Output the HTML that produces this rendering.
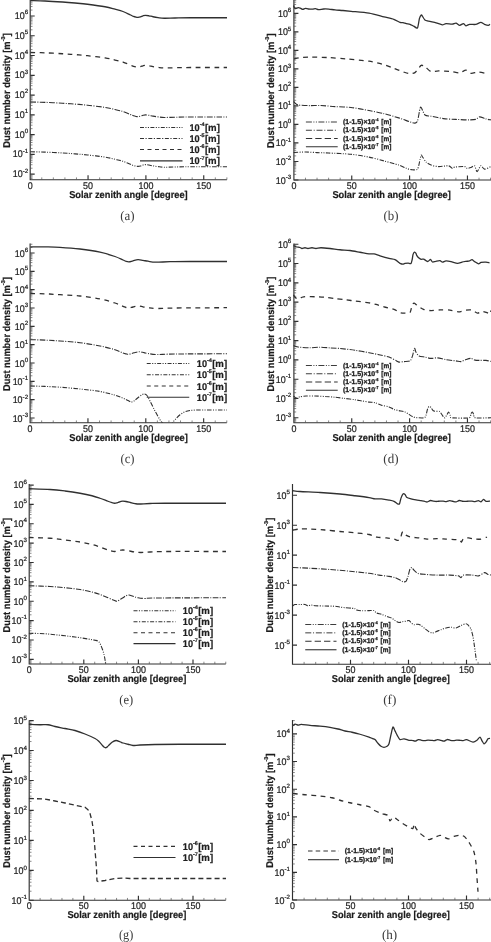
<!DOCTYPE html>
<html lang="en">
<head>
<meta charset="utf-8">
<title>Dust number density vs solar zenith angle</title>
<style>
html,body{margin:0;padding:0;background:#fff;}
body{width:491px;height:942px;overflow:hidden;font-family:"Liberation Sans",sans-serif;}
svg{display:block;will-change:transform;}
svg text{font-family:"Liberation Sans",sans-serif;text-rendering:geometricPrecision;stroke:#1e1e1e;stroke-width:0.22px;}
</style>
</head>
<body>
<svg width="491" height="942" viewBox="0 0 491 942">
<rect x="0" y="0" width="491" height="942" fill="#ffffff"/>
<g id="panel-a">
<path d="M30.2 0 V179.7 H226.89" stroke="#303030" stroke-width="1.15" fill="none" stroke-linejoin="miter"/>
<path d="M30.2 174.16h4.5M30.2 154.39h4.5M30.2 134.62h4.5M30.2 114.85h4.5M30.2 95.08h4.5M30.2 75.31h4.5M30.2 55.54h4.5M30.2 35.77h4.5M30.2 16h4.5M88.05 179.7v-4.5M145.9 179.7v-4.5M203.75 179.7v-4.5" stroke="#303030" stroke-width="1.15" fill="none"/>
<path d="M30.2 178.55h2.3M30.2 177.22h2.3M30.2 176.08h2.3M30.2 175.06h2.3M30.2 168.21h2.3M30.2 164.73h2.3M30.2 162.26h2.3M30.2 160.34h2.3M30.2 158.78h2.3M30.2 157.45h2.3M30.2 156.31h2.3M30.2 155.29h2.3M30.2 148.44h2.3M30.2 144.96h2.3M30.2 142.49h2.3M30.2 140.57h2.3M30.2 139.01h2.3M30.2 137.68h2.3M30.2 136.54h2.3M30.2 135.52h2.3M30.2 128.67h2.3M30.2 125.19h2.3M30.2 122.72h2.3M30.2 120.8h2.3M30.2 119.24h2.3M30.2 117.91h2.3M30.2 116.77h2.3M30.2 115.75h2.3M30.2 108.9h2.3M30.2 105.42h2.3M30.2 102.95h2.3M30.2 101.03h2.3M30.2 99.47h2.3M30.2 98.14h2.3M30.2 97h2.3M30.2 95.98h2.3M30.2 89.13h2.3M30.2 85.65h2.3M30.2 83.18h2.3M30.2 81.26h2.3M30.2 79.7h2.3M30.2 78.37h2.3M30.2 77.23h2.3M30.2 76.21h2.3M30.2 69.36h2.3M30.2 65.88h2.3M30.2 63.41h2.3M30.2 61.49h2.3M30.2 59.93h2.3M30.2 58.6h2.3M30.2 57.46h2.3M30.2 56.44h2.3M30.2 49.59h2.3M30.2 46.11h2.3M30.2 43.64h2.3M30.2 41.72h2.3M30.2 40.16h2.3M30.2 38.83h2.3M30.2 37.69h2.3M30.2 36.67h2.3M30.2 29.82h2.3M30.2 26.34h2.3M30.2 23.87h2.3M30.2 21.95h2.3M30.2 20.39h2.3M30.2 19.06h2.3M30.2 17.92h2.3M30.2 16.9h2.3M30.2 10.05h2.3M30.2 6.57h2.3M30.2 4.1h2.3M30.2 2.18h2.3M30.2 0.62h2.3M41.77 179.7v-2.3M53.34 179.7v-2.3M64.91 179.7v-2.3M76.48 179.7v-2.3M99.62 179.7v-2.3M111.19 179.7v-2.3M122.76 179.7v-2.3M134.33 179.7v-2.3M157.47 179.7v-2.3M169.04 179.7v-2.3M180.61 179.7v-2.3M192.18 179.7v-2.3M215.32 179.7v-2.3M226.89 179.7v-2.3" stroke="#555" stroke-width="0.7" fill="none"/>
<text x="14.83" y="19.07" font-size="9.7" textLength="9.92" lengthAdjust="spacingAndGlyphs" fill="#1e1e1e">10</text>
<text x="28.2" y="14.41" font-size="6.2" text-anchor="end" fill="#1e1e1e">6</text>
<text x="14.83" y="38.84" font-size="9.7" textLength="9.92" lengthAdjust="spacingAndGlyphs" fill="#1e1e1e">10</text>
<text x="28.2" y="34.18" font-size="6.2" text-anchor="end" fill="#1e1e1e">5</text>
<text x="14.83" y="58.61" font-size="9.7" textLength="9.92" lengthAdjust="spacingAndGlyphs" fill="#1e1e1e">10</text>
<text x="28.2" y="53.95" font-size="6.2" text-anchor="end" fill="#1e1e1e">4</text>
<text x="14.83" y="78.38" font-size="9.7" textLength="9.92" lengthAdjust="spacingAndGlyphs" fill="#1e1e1e">10</text>
<text x="28.2" y="73.72" font-size="6.2" text-anchor="end" fill="#1e1e1e">3</text>
<text x="14.83" y="98.15" font-size="9.7" textLength="9.92" lengthAdjust="spacingAndGlyphs" fill="#1e1e1e">10</text>
<text x="28.2" y="93.49" font-size="6.2" text-anchor="end" fill="#1e1e1e">2</text>
<text x="14.83" y="117.92" font-size="9.7" textLength="9.92" lengthAdjust="spacingAndGlyphs" fill="#1e1e1e">10</text>
<text x="28.2" y="113.26" font-size="6.2" text-anchor="end" fill="#1e1e1e">1</text>
<text x="14.83" y="137.69" font-size="9.7" textLength="9.92" lengthAdjust="spacingAndGlyphs" fill="#1e1e1e">10</text>
<text x="28.2" y="133.03" font-size="6.2" text-anchor="end" fill="#1e1e1e">0</text>
<text x="12.76" y="157.46" font-size="9.7" textLength="9.92" lengthAdjust="spacingAndGlyphs" fill="#1e1e1e">10</text>
<text x="28.2" y="152.8" font-size="6.2" text-anchor="end" fill="#1e1e1e">-1</text>
<text x="12.76" y="177.23" font-size="9.7" textLength="9.92" lengthAdjust="spacingAndGlyphs" fill="#1e1e1e">10</text>
<text x="28.2" y="172.57" font-size="6.2" text-anchor="end" fill="#1e1e1e">-2</text>
<text x="27.72" y="188.8" font-size="9.7" textLength="4.96" lengthAdjust="spacingAndGlyphs" fill="#1e1e1e">0</text>
<text x="83.09" y="188.8" font-size="9.7" textLength="9.92" lengthAdjust="spacingAndGlyphs" fill="#1e1e1e">50</text>
<text x="138.46" y="188.8" font-size="9.7" textLength="14.89" lengthAdjust="spacingAndGlyphs" fill="#1e1e1e">100</text>
<text x="196.31" y="188.8" font-size="9.7" textLength="14.89" lengthAdjust="spacingAndGlyphs" fill="#1e1e1e">150</text>
<text x="69.2" y="198.3" font-size="9.9" font-weight="bold" textLength="118.5" lengthAdjust="spacingAndGlyphs" fill="#1c1c1c" style="stroke:#1c1c1c;stroke-width:0.2px">Solar zenith angle [degree]</text>
<g transform="translate(9.9 147.7) rotate(-90)" font-weight="bold" fill="#1c1c1c" style="stroke:#1c1c1c">
<text x="0" y="0" font-size="9.9" textLength="106.26" lengthAdjust="spacingAndGlyphs">Dust number density [m</text>
<text x="106.36" y="-4.95" font-size="5.54" textLength="4.95" lengthAdjust="spacingAndGlyphs">-3</text>
<text x="111.41" y="0" font-size="9.9" textLength="3.09" lengthAdjust="spacingAndGlyphs">]</text>
</g>
<g>
<path d="M30.4 0.6 C32.83 0.67 39.65 0.77 45 1 C50.35 1.23 57.5 1.67 62.5 2 C67.5 2.33 70.83 2.62 75 3 C79.17 3.38 82.5 3.62 87.5 4.25 C92.5 4.88 100.42 5.92 105 6.75 C109.58 7.58 112 8.41 115 9.2 C118 9.99 120.42 10.53 123 11.5 C125.58 12.47 128.75 14.18 130.5 15 C132.25 15.82 132.58 16.05 133.5 16.4 C134.42 16.75 135.25 16.95 136 17.1 C136.75 17.25 137.25 17.35 138 17.3 C138.75 17.25 139.67 17.05 140.5 16.8 C141.33 16.55 142.17 16.05 143 15.8 C143.83 15.55 144.5 15.3 145.5 15.3 C146.5 15.3 147.75 15.56 149 15.8 C150.25 16.04 151.5 16.45 153 16.75 C154.5 17.05 156.12 17.35 158 17.6 C159.88 17.85 161.42 18.18 164.25 18.25 C167.08 18.32 170.62 18.08 175 18 C179.38 17.92 181.83 17.79 190.5 17.75 C199.17 17.71 220.92 17.75 227 17.75" stroke="#303030" stroke-width="1.3" fill="none" stroke-linejoin="round"/>
<path d="M30.4 52.5 C32.83 52.56 39.65 52.65 45 52.85 C50.35 53.05 57.5 53.43 62.5 53.73 C67.5 54.02 70.83 54.27 75 54.6 C79.17 54.93 82.5 55.15 87.5 55.69 C92.5 56.24 100.42 57.16 105 57.88 C109.58 58.6 112 59.33 115 60.02 C118 60.72 120.42 61.19 123 62.04 C125.58 62.88 128.75 64.39 130.5 65.1 C132.25 65.81 132.58 66.02 133.5 66.33 C134.42 66.63 135.25 66.81 136 66.94 C136.75 67.07 137.25 67.16 138 67.11 C138.75 67.07 139.67 66.89 140.5 66.67 C141.33 66.46 142.17 66.02 143 65.8 C143.83 65.58 144.5 65.36 145.5 65.36 C146.5 65.36 147.75 65.59 149 65.8 C150.25 66.01 151.5 66.37 153 66.63 C154.5 66.89 156.12 67.16 158 67.38 C159.88 67.59 161.42 67.89 164.25 67.94 C167.08 68 170.62 67.8 175 67.72 C179.38 67.65 181.83 67.54 190.5 67.51 C199.17 67.47 220.92 67.51 227 67.51" stroke="#303030" stroke-width="1.3" fill="none" stroke-linejoin="round" stroke-dasharray="4.8 4.5"/>
<path d="M30.4 102 C32.83 102.06 39.65 102.15 45 102.35 C50.35 102.55 57.5 102.93 62.5 103.22 C67.5 103.52 70.83 103.77 75 104.1 C79.17 104.43 82.5 104.65 87.5 105.19 C92.5 105.74 100.42 106.66 105 107.38 C109.58 108.1 112 108.83 115 109.53 C118 110.22 120.42 110.69 123 111.54 C125.58 112.38 128.75 113.89 130.5 114.6 C132.25 115.31 132.58 115.52 133.5 115.83 C134.42 116.13 135.25 116.31 136 116.44 C136.75 116.57 137.25 116.66 138 116.61 C138.75 116.57 139.67 116.39 140.5 116.17 C141.33 115.96 142.17 115.52 143 115.3 C143.83 115.08 144.5 114.86 145.5 114.86 C146.5 114.86 147.75 115.09 149 115.3 C150.25 115.51 151.5 115.87 153 116.13 C154.5 116.39 156.12 116.66 158 116.88 C159.88 117.09 161.42 117.39 164.25 117.44 C167.08 117.5 170.62 117.3 175 117.22 C179.38 117.15 181.83 117.04 190.5 117.01 C199.17 116.97 220.92 117.01 227 117.01" stroke="#303030" stroke-width="1.1" fill="none" stroke-linejoin="round" stroke-dasharray="5.6 1.4 1 1.4"/>
<path d="M30.4 151.75 C32.83 151.81 39.65 151.9 45 152.1 C50.35 152.3 57.5 152.68 62.5 152.97 C67.5 153.27 70.83 153.52 75 153.85 C79.17 154.18 82.5 154.4 87.5 154.94 C92.5 155.49 100.42 156.41 105 157.13 C109.58 157.85 112 158.58 115 159.28 C118 159.97 120.42 160.44 123 161.29 C125.58 162.13 128.75 163.64 130.5 164.35 C132.25 165.06 132.58 165.27 133.5 165.57 C134.42 165.88 135.25 166.06 136 166.19 C136.75 166.32 137.25 166.41 138 166.36 C138.75 166.32 139.67 166.14 140.5 165.93 C141.33 165.71 142.17 165.27 143 165.05 C143.83 164.83 144.5 164.61 145.5 164.61 C146.5 164.61 147.75 164.84 149 165.05 C150.25 165.26 151.5 165.62 153 165.88 C154.5 166.14 156.12 166.41 158 166.62 C159.88 166.84 161.42 167.14 164.25 167.19 C167.08 167.25 170.62 167.05 175 166.97 C179.38 166.9 181.83 166.79 190.5 166.76 C199.17 166.72 220.92 166.76 227 166.76" stroke="#303030" stroke-width="1.1" fill="none" stroke-linejoin="round" stroke-dasharray="4.6 1.4 1 1.4 1 1.4"/>
</g>
<path d="M140 127.5H182.5" stroke="#303030" stroke-width="0.99" fill="none" stroke-linejoin="round" stroke-dasharray="4 1.4 1.1 1.4 1.1 1.4"/>
<text x="189.5" y="131.04" font-size="9.81" font-weight="bold" textLength="10.21" lengthAdjust="spacingAndGlyphs" fill="#1e1e1e">10</text>
<text x="199.71" y="126.24" font-size="5.22" font-weight="bold" textLength="4.87" lengthAdjust="spacingAndGlyphs" fill="#1e1e1e">-4</text>
<text x="204.88" y="131.04" font-size="9.81" font-weight="bold" textLength="14.97" lengthAdjust="spacingAndGlyphs" fill="#1e1e1e">[m]</text>
<path d="M140 138.5H182.5" stroke="#303030" stroke-width="0.99" fill="none" stroke-linejoin="round" stroke-dasharray="4 1.5 1.2 1.6"/>
<text x="189.5" y="142.04" font-size="9.81" font-weight="bold" textLength="10.21" lengthAdjust="spacingAndGlyphs" fill="#1e1e1e">10</text>
<text x="199.71" y="137.24" font-size="5.22" font-weight="bold" textLength="4.87" lengthAdjust="spacingAndGlyphs" fill="#1e1e1e">-5</text>
<text x="204.88" y="142.04" font-size="9.81" font-weight="bold" textLength="14.97" lengthAdjust="spacingAndGlyphs" fill="#1e1e1e">[m]</text>
<path d="M140 149.5H182.5" stroke="#303030" stroke-width="1.17" fill="none" stroke-linejoin="round" stroke-dasharray="4 3.5"/>
<text x="189.5" y="153.04" font-size="9.81" font-weight="bold" textLength="10.21" lengthAdjust="spacingAndGlyphs" fill="#1e1e1e">10</text>
<text x="199.71" y="148.24" font-size="5.22" font-weight="bold" textLength="4.87" lengthAdjust="spacingAndGlyphs" fill="#1e1e1e">-6</text>
<text x="204.88" y="153.04" font-size="9.81" font-weight="bold" textLength="14.97" lengthAdjust="spacingAndGlyphs" fill="#1e1e1e">[m]</text>
<path d="M140 160.9H182.5" stroke="#303030" stroke-width="1.17" fill="none" stroke-linejoin="round"/>
<text x="189.5" y="164.44" font-size="9.81" font-weight="bold" textLength="10.21" lengthAdjust="spacingAndGlyphs" fill="#1e1e1e">10</text>
<text x="199.71" y="159.64" font-size="5.22" font-weight="bold" textLength="4.87" lengthAdjust="spacingAndGlyphs" fill="#1e1e1e">-7</text>
<text x="204.88" y="164.44" font-size="9.81" font-weight="bold" textLength="14.97" lengthAdjust="spacingAndGlyphs" fill="#1e1e1e">[m]</text>
<text x="120.2" y="219.5" font-size="13.5" textLength="14.4" lengthAdjust="spacingAndGlyphs" style="font-family:'Liberation Serif',serif;stroke-width:0" fill="#3a3a3a">(a)</text>
</g>
<g id="panel-b">
<path d="M293.9 0 V180 H491" stroke="#303030" stroke-width="1.15" fill="none" stroke-linejoin="miter"/>
<path d="M293.9 179.98h4.5M293.9 161.46h4.5M293.9 142.94h4.5M293.9 124.42h4.5M293.9 105.9h4.5M293.9 87.38h4.5M293.9 68.86h4.5M293.9 50.34h4.5M293.9 31.82h4.5M293.9 13.3h4.5M351.75 180v-4.5M409.6 180v-4.5M467.45 180v-4.5" stroke="#303030" stroke-width="1.15" fill="none"/>
<path d="M293.9 174.4h2.3M293.9 171.14h2.3M293.9 168.83h2.3M293.9 167.04h2.3M293.9 165.57h2.3M293.9 164.33h2.3M293.9 163.25h2.3M293.9 162.31h2.3M293.9 155.88h2.3M293.9 152.62h2.3M293.9 150.31h2.3M293.9 148.52h2.3M293.9 147.05h2.3M293.9 145.81h2.3M293.9 144.73h2.3M293.9 143.79h2.3M293.9 137.36h2.3M293.9 134.1h2.3M293.9 131.79h2.3M293.9 130h2.3M293.9 128.53h2.3M293.9 127.29h2.3M293.9 126.21h2.3M293.9 125.27h2.3M293.9 118.84h2.3M293.9 115.58h2.3M293.9 113.27h2.3M293.9 111.48h2.3M293.9 110.01h2.3M293.9 108.77h2.3M293.9 107.69h2.3M293.9 106.75h2.3M293.9 100.32h2.3M293.9 97.06h2.3M293.9 94.75h2.3M293.9 92.96h2.3M293.9 91.49h2.3M293.9 90.25h2.3M293.9 89.17h2.3M293.9 88.23h2.3M293.9 81.8h2.3M293.9 78.54h2.3M293.9 76.23h2.3M293.9 74.44h2.3M293.9 72.97h2.3M293.9 71.73h2.3M293.9 70.65h2.3M293.9 69.71h2.3M293.9 63.28h2.3M293.9 60.02h2.3M293.9 57.71h2.3M293.9 55.92h2.3M293.9 54.45h2.3M293.9 53.21h2.3M293.9 52.13h2.3M293.9 51.19h2.3M293.9 44.76h2.3M293.9 41.5h2.3M293.9 39.19h2.3M293.9 37.4h2.3M293.9 35.93h2.3M293.9 34.69h2.3M293.9 33.61h2.3M293.9 32.67h2.3M293.9 26.24h2.3M293.9 22.98h2.3M293.9 20.67h2.3M293.9 18.88h2.3M293.9 17.41h2.3M293.9 16.17h2.3M293.9 15.09h2.3M293.9 14.15h2.3M293.9 7.72h2.3M293.9 4.46h2.3M293.9 2.15h2.3M293.9 0.36h2.3M305.47 180v-2.3M317.04 180v-2.3M328.61 180v-2.3M340.18 180v-2.3M363.32 180v-2.3M374.89 180v-2.3M386.46 180v-2.3M398.03 180v-2.3M421.17 180v-2.3M432.74 180v-2.3M444.31 180v-2.3M455.88 180v-2.3M479.02 180v-2.3M490.59 180v-2.3" stroke="#555" stroke-width="0.7" fill="none"/>
<text x="277.93" y="16.84" font-size="9.7" textLength="9.92" lengthAdjust="spacingAndGlyphs" fill="#1e1e1e">10</text>
<text x="291.3" y="12.18" font-size="6.2" text-anchor="end" fill="#1e1e1e">6</text>
<text x="277.93" y="35.36" font-size="9.7" textLength="9.92" lengthAdjust="spacingAndGlyphs" fill="#1e1e1e">10</text>
<text x="291.3" y="30.7" font-size="6.2" text-anchor="end" fill="#1e1e1e">5</text>
<text x="277.93" y="53.88" font-size="9.7" textLength="9.92" lengthAdjust="spacingAndGlyphs" fill="#1e1e1e">10</text>
<text x="291.3" y="49.22" font-size="6.2" text-anchor="end" fill="#1e1e1e">4</text>
<text x="277.93" y="72.4" font-size="9.7" textLength="9.92" lengthAdjust="spacingAndGlyphs" fill="#1e1e1e">10</text>
<text x="291.3" y="67.74" font-size="6.2" text-anchor="end" fill="#1e1e1e">3</text>
<text x="277.93" y="90.92" font-size="9.7" textLength="9.92" lengthAdjust="spacingAndGlyphs" fill="#1e1e1e">10</text>
<text x="291.3" y="86.26" font-size="6.2" text-anchor="end" fill="#1e1e1e">2</text>
<text x="277.93" y="109.44" font-size="9.7" textLength="9.92" lengthAdjust="spacingAndGlyphs" fill="#1e1e1e">10</text>
<text x="291.3" y="104.78" font-size="6.2" text-anchor="end" fill="#1e1e1e">1</text>
<text x="277.93" y="127.96" font-size="9.7" textLength="9.92" lengthAdjust="spacingAndGlyphs" fill="#1e1e1e">10</text>
<text x="291.3" y="123.3" font-size="6.2" text-anchor="end" fill="#1e1e1e">0</text>
<text x="275.86" y="146.48" font-size="9.7" textLength="9.92" lengthAdjust="spacingAndGlyphs" fill="#1e1e1e">10</text>
<text x="291.3" y="141.82" font-size="6.2" text-anchor="end" fill="#1e1e1e">-1</text>
<text x="275.86" y="165" font-size="9.7" textLength="9.92" lengthAdjust="spacingAndGlyphs" fill="#1e1e1e">10</text>
<text x="291.3" y="160.34" font-size="6.2" text-anchor="end" fill="#1e1e1e">-2</text>
<text x="275.86" y="183.52" font-size="9.7" textLength="9.92" lengthAdjust="spacingAndGlyphs" fill="#1e1e1e">10</text>
<text x="291.3" y="178.86" font-size="6.2" text-anchor="end" fill="#1e1e1e">-3</text>
<text x="291.42" y="189.1" font-size="9.7" textLength="4.96" lengthAdjust="spacingAndGlyphs" fill="#1e1e1e">0</text>
<text x="346.79" y="189.1" font-size="9.7" textLength="9.92" lengthAdjust="spacingAndGlyphs" fill="#1e1e1e">50</text>
<text x="402.16" y="189.1" font-size="9.7" textLength="14.89" lengthAdjust="spacingAndGlyphs" fill="#1e1e1e">100</text>
<text x="460.01" y="189.1" font-size="9.7" textLength="14.89" lengthAdjust="spacingAndGlyphs" fill="#1e1e1e">150</text>
<text x="332.4" y="198.3" font-size="9.9" font-weight="bold" textLength="118.4" lengthAdjust="spacingAndGlyphs" fill="#1c1c1c" style="stroke:#1c1c1c;stroke-width:0.2px">Solar zenith angle [degree]</text>
<g transform="translate(273.5 147.9) rotate(-90)" font-weight="bold" fill="#1c1c1c" style="stroke:#1c1c1c">
<text x="0" y="0" font-size="9.9" textLength="106.26" lengthAdjust="spacingAndGlyphs">Dust number density [m</text>
<text x="106.36" y="-4.95" font-size="5.54" textLength="4.95" lengthAdjust="spacingAndGlyphs">-3</text>
<text x="111.41" y="0" font-size="9.9" textLength="3.09" lengthAdjust="spacingAndGlyphs">]</text>
</g>
<g>
<path d="M293.6 5.6 C293.68 5.81 293.99 6.79 294.2 7.2 C294.41 7.61 294.67 8.65 295.2 8.7 C295.73 8.75 297.52 7.68 298.2 7.6 C298.88 7.52 299.69 7.86 300.3 8.1 C300.91 8.34 302.12 9.36 302.8 9.4 C303.48 9.44 304.65 8.45 305.4 8.4 C306.15 8.35 307.45 8.89 308.4 9 C309.35 9.11 311.55 9.24 312.5 9.2 C313.45 9.16 314.69 8.63 315.5 8.7 C316.31 8.77 317.51 9.66 318.6 9.7 C319.69 9.74 322.34 9.08 323.7 9 C325.06 8.92 327.29 8.98 328.8 9.1 C330.31 9.22 333.11 9.71 335 9.9 C336.89 10.09 340.84 10.31 343 10.5 C345.16 10.69 347.73 10.95 351.2 11.3 C354.67 11.65 364.63 12.35 369 13.1 C373.37 13.85 380.69 16.06 384 16.9 C387.31 17.74 391.67 18.67 393.8 19.4 C395.93 20.13 398.77 21.97 400 22.4 C401.23 22.83 402.16 22.44 403 22.6 C403.84 22.76 405.37 23.37 406.3 23.6 C407.23 23.83 409.01 23.97 410 24.3 C410.99 24.63 412.7 25.63 413.7 26.1 C414.7 26.57 416.74 28.8 417.5 27.8 C418.26 26.8 418.91 20.32 419.4 18.6 C419.89 16.88 420.8 15.22 421.2 14.9 C421.6 14.58 421.91 15.53 422.4 16.2 C422.89 16.87 424.07 19.25 424.9 19.9 C425.73 20.55 427.11 20.7 428.6 21.1 C430.09 21.5 434.27 22.41 436.1 22.9 C437.93 23.39 440.98 24.71 442.3 24.8 C443.62 24.89 444.68 23.69 446 23.6 C447.32 23.51 450.87 24.17 452.2 24.1 C453.53 24.03 455 22.94 456 23.1 C457 23.26 458.71 25.23 459.7 25.3 C460.69 25.37 462.57 23.53 463.4 23.6 C464.23 23.67 465.07 25.69 465.9 25.8 C466.73 25.91 468.28 24.59 469.6 24.4 C470.92 24.21 474.31 24.67 475.8 24.4 C477.29 24.13 479.64 22.41 480.8 22.4 C481.96 22.39 483.5 23.91 484.5 24.3 C485.5 24.69 487.57 25.3 488.3 25.3 C489.03 25.3 489.77 24.43 490 24.3" stroke="#303030" stroke-width="1.3" fill="none" stroke-linejoin="round"/>
<path d="M294 58.9 C294.79 58.73 297.61 57.84 299.9 57.6 C302.19 57.36 307.36 57.1 311.2 57.1 C315.04 57.1 324.03 57.36 328.7 57.6 C333.37 57.84 340.83 58.42 346.2 58.9 C351.57 59.38 363.96 60.44 369 61.2 C374.04 61.96 380.69 63.65 384 64.6 C387.31 65.55 391.16 67.3 393.8 68.3 C396.44 69.3 401.64 71.37 403.8 72.1 C405.96 72.83 408.52 73.73 410 73.8 C411.48 73.87 413.74 73.33 414.9 72.6 C416.06 71.87 417.86 69.27 418.7 68.3 C419.54 67.33 420.37 65.53 421.2 65.3 C422.03 65.07 423.58 65.76 424.9 66.6 C426.22 67.44 429.27 71.04 431.1 71.6 C432.93 72.16 435.95 70.8 438.6 70.8 C441.25 70.8 448.19 71.33 451 71.6 C453.81 71.87 457.71 73 459.7 72.8 C461.69 72.6 464.41 70.03 465.9 70.1 C467.39 70.17 469.25 73.03 470.9 73.3 C472.55 73.57 476.31 72.1 478.3 72.1 C480.29 72.1 484.8 73.14 485.8 73.3" stroke="#303030" stroke-width="1.3" fill="none" stroke-linejoin="round" stroke-dasharray="4.8 4.5"/>
<path d="M293.6 101.5 C293.85 101.77 295.05 103.09 295.5 103.5 C295.95 103.91 296.4 104.37 297 104.6 C297.6 104.83 298.27 105.07 300 105.2 C301.73 105.33 307.2 105.56 310 105.6 C312.8 105.64 317.67 105.37 321 105.5 C324.33 105.63 331 106.33 335 106.6 C339 106.87 346.47 106.98 351 107.5 C355.53 108.02 364.6 109.67 369 110.5 C373.4 111.33 380.03 112.71 384 113.7 C387.97 114.69 395.33 116.81 398.8 117.9 C402.27 118.99 407.84 121.21 410 121.9 C412.16 122.59 414 123.22 415 123.1 C416 122.98 416.83 122.92 417.5 121 C418.17 119.08 419.51 110.5 420 108.7 C420.49 106.9 420.53 106.66 421.2 107.5 C421.87 108.34 423.69 113.84 425 115 C426.31 116.16 428.53 115.72 431 116.2 C433.47 116.68 440.17 118.17 443.5 118.6 C446.83 119.03 452.68 119.23 456 119.4 C459.32 119.57 465.76 119.9 468.4 119.9 C471.04 119.9 474.31 119.8 475.8 119.4 C477.29 119 478.27 116.97 479.6 116.9 C480.93 116.83 484.28 118.5 485.8 118.9 C487.32 119.3 490.31 119.77 491 119.9" stroke="#303030" stroke-width="1.1" fill="none" stroke-linejoin="round" stroke-dasharray="5.6 1.4 1 1.4"/>
<path d="M293.6 152.5 C295.25 152.43 302.88 151.99 306 152 C309.12 152.01 314 152.47 317 152.6 C320 152.73 323.97 152.78 328.5 153 C333.03 153.22 345.6 153.7 351 154.25 C356.4 154.8 364.6 156.21 369 157.1 C373.4 157.99 380.03 159.83 384 160.9 C387.97 161.97 395.83 164.11 398.8 165.1 C401.77 166.09 404.65 167.7 406.3 168.3 C407.95 168.9 409.71 169.49 411.2 169.6 C412.69 169.71 416.33 170.43 417.5 169.1 C418.67 167.77 419.51 161.45 420 159.6 C420.49 157.75 420.88 155.59 421.2 155.2 C421.52 154.81 421.73 155.78 422.4 156.7 C423.07 157.62 425.04 160.98 426.2 162.1 C427.36 163.22 429.45 164.5 431.1 165.1 C432.75 165.7 436.28 166.51 438.6 166.6 C440.92 166.69 446.69 165.57 448.5 165.8 C450.31 166.03 451.37 168.13 452.2 168.3 C453.03 168.47 453.03 167.33 454.7 167.1 C456.37 166.87 463.05 166.44 464.7 166.6 C466.35 166.76 466.27 168.17 467.1 168.3 C467.93 168.43 469.9 167.93 470.9 167.6 C471.9 167.27 473.77 165.27 474.6 165.8 C475.43 166.33 476.27 171.6 477.1 171.6 C477.93 171.6 479.81 166.13 480.8 165.8 C481.79 165.47 483.14 168.99 484.5 169.1 C485.86 169.21 490.13 166.93 491 166.6" stroke="#303030" stroke-width="1.1" fill="none" stroke-linejoin="round" stroke-dasharray="4.6 1.4 1 1.4 1 1.4"/>
</g>
<path d="M305.9 122H337.7" stroke="#303030" stroke-width="0.94" fill="none" stroke-linejoin="round" stroke-dasharray="6 1.5 1 1.5 1 1.5"/>
<text x="343" y="124.18" font-size="6.9" font-weight="bold" style="stroke-width:0.3px" textLength="32.2" lengthAdjust="spacingAndGlyphs" fill="#1e1e1e">(1-1.5)×10</text>
<text x="375.3" y="121.08" font-size="4" font-weight="bold" style="stroke-width:0.3px" textLength="3.1" lengthAdjust="spacingAndGlyphs" fill="#1e1e1e">-4</text>
<text x="381.3" y="124.18" font-size="6.9" font-weight="bold" style="stroke-width:0.3px" textLength="10" lengthAdjust="spacingAndGlyphs" fill="#1e1e1e">[m]</text>
<path d="M305.9 130.25H337.7" stroke="#303030" stroke-width="0.94" fill="none" stroke-linejoin="round" stroke-dasharray="6 1.8 1 1.8"/>
<text x="343" y="132.43" font-size="6.9" font-weight="bold" style="stroke-width:0.3px" textLength="32.2" lengthAdjust="spacingAndGlyphs" fill="#1e1e1e">(1-1.5)×10</text>
<text x="375.3" y="129.33" font-size="4" font-weight="bold" style="stroke-width:0.3px" textLength="3.1" lengthAdjust="spacingAndGlyphs" fill="#1e1e1e">-5</text>
<text x="381.3" y="132.43" font-size="6.9" font-weight="bold" style="stroke-width:0.3px" textLength="10" lengthAdjust="spacingAndGlyphs" fill="#1e1e1e">[m]</text>
<path d="M305.9 138.5H337.7" stroke="#303030" stroke-width="1.1" fill="none" stroke-linejoin="round" stroke-dasharray="6.3 3.1"/>
<text x="343" y="140.68" font-size="6.9" font-weight="bold" style="stroke-width:0.3px" textLength="32.2" lengthAdjust="spacingAndGlyphs" fill="#1e1e1e">(1-1.5)×10</text>
<text x="375.3" y="137.58" font-size="4" font-weight="bold" style="stroke-width:0.3px" textLength="3.1" lengthAdjust="spacingAndGlyphs" fill="#1e1e1e">-6</text>
<text x="381.3" y="140.68" font-size="6.9" font-weight="bold" style="stroke-width:0.3px" textLength="10" lengthAdjust="spacingAndGlyphs" fill="#1e1e1e">[m]</text>
<path d="M305.9 146.75H337.7" stroke="#303030" stroke-width="1.1" fill="none" stroke-linejoin="round"/>
<text x="343" y="148.93" font-size="6.9" font-weight="bold" style="stroke-width:0.3px" textLength="32.2" lengthAdjust="spacingAndGlyphs" fill="#1e1e1e">(1-1.5)×10</text>
<text x="375.3" y="145.83" font-size="4" font-weight="bold" style="stroke-width:0.3px" textLength="3.1" lengthAdjust="spacingAndGlyphs" fill="#1e1e1e">-7</text>
<text x="381.3" y="148.93" font-size="6.9" font-weight="bold" style="stroke-width:0.3px" textLength="10" lengthAdjust="spacingAndGlyphs" fill="#1e1e1e">[m]</text>
<text x="383.5" y="219.5" font-size="13.5" textLength="15" lengthAdjust="spacingAndGlyphs" style="font-family:'Liberation Serif',serif;stroke-width:0" fill="#3a3a3a">(b)</text>
</g>
<g id="panel-c">
<path d="M30.1 243.5 V422.75 H226.79" stroke="#303030" stroke-width="1.15" fill="none" stroke-linejoin="miter"/>
<path d="M30.1 417.97h4.5M30.1 399.64h4.5M30.1 381.31h4.5M30.1 362.98h4.5M30.1 344.65h4.5M30.1 326.32h4.5M30.1 307.99h4.5M30.1 289.66h4.5M30.1 271.33h4.5M30.1 253h4.5M87.95 422.75v-4.5M145.8 422.75v-4.5M203.65 422.75v-4.5" stroke="#303030" stroke-width="1.15" fill="none"/>
<path d="M30.1 422.04h2.3M30.1 420.81h2.3M30.1 419.75h2.3M30.1 418.81h2.3M30.1 412.45h2.3M30.1 409.22h2.3M30.1 406.93h2.3M30.1 405.16h2.3M30.1 403.71h2.3M30.1 402.48h2.3M30.1 401.42h2.3M30.1 400.48h2.3M30.1 394.12h2.3M30.1 390.89h2.3M30.1 388.6h2.3M30.1 386.83h2.3M30.1 385.38h2.3M30.1 384.15h2.3M30.1 383.09h2.3M30.1 382.15h2.3M30.1 375.79h2.3M30.1 372.56h2.3M30.1 370.27h2.3M30.1 368.5h2.3M30.1 367.05h2.3M30.1 365.82h2.3M30.1 364.76h2.3M30.1 363.82h2.3M30.1 357.46h2.3M30.1 354.23h2.3M30.1 351.94h2.3M30.1 350.17h2.3M30.1 348.72h2.3M30.1 347.49h2.3M30.1 346.43h2.3M30.1 345.49h2.3M30.1 339.13h2.3M30.1 335.9h2.3M30.1 333.61h2.3M30.1 331.84h2.3M30.1 330.39h2.3M30.1 329.16h2.3M30.1 328.1h2.3M30.1 327.16h2.3M30.1 320.8h2.3M30.1 317.57h2.3M30.1 315.28h2.3M30.1 313.51h2.3M30.1 312.06h2.3M30.1 310.83h2.3M30.1 309.77h2.3M30.1 308.83h2.3M30.1 302.47h2.3M30.1 299.24h2.3M30.1 296.95h2.3M30.1 295.18h2.3M30.1 293.73h2.3M30.1 292.5h2.3M30.1 291.44h2.3M30.1 290.5h2.3M30.1 284.14h2.3M30.1 280.91h2.3M30.1 278.62h2.3M30.1 276.85h2.3M30.1 275.4h2.3M30.1 274.17h2.3M30.1 273.11h2.3M30.1 272.17h2.3M30.1 265.81h2.3M30.1 262.58h2.3M30.1 260.29h2.3M30.1 258.52h2.3M30.1 257.07h2.3M30.1 255.84h2.3M30.1 254.78h2.3M30.1 253.84h2.3M30.1 247.48h2.3M30.1 244.25h2.3M41.67 422.75v-2.3M53.24 422.75v-2.3M64.81 422.75v-2.3M76.38 422.75v-2.3M99.52 422.75v-2.3M111.09 422.75v-2.3M122.66 422.75v-2.3M134.23 422.75v-2.3M157.37 422.75v-2.3M168.94 422.75v-2.3M180.51 422.75v-2.3M192.08 422.75v-2.3M215.22 422.75v-2.3M226.79 422.75v-2.3" stroke="#555" stroke-width="0.7" fill="none"/>
<text x="14.73" y="256.65" font-size="9.7" textLength="9.92" lengthAdjust="spacingAndGlyphs" fill="#1e1e1e">10</text>
<text x="28.1" y="251.99" font-size="6.2" text-anchor="end" fill="#1e1e1e">6</text>
<text x="14.73" y="274.98" font-size="9.7" textLength="9.92" lengthAdjust="spacingAndGlyphs" fill="#1e1e1e">10</text>
<text x="28.1" y="270.32" font-size="6.2" text-anchor="end" fill="#1e1e1e">5</text>
<text x="14.73" y="293.31" font-size="9.7" textLength="9.92" lengthAdjust="spacingAndGlyphs" fill="#1e1e1e">10</text>
<text x="28.1" y="288.65" font-size="6.2" text-anchor="end" fill="#1e1e1e">4</text>
<text x="14.73" y="311.64" font-size="9.7" textLength="9.92" lengthAdjust="spacingAndGlyphs" fill="#1e1e1e">10</text>
<text x="28.1" y="306.98" font-size="6.2" text-anchor="end" fill="#1e1e1e">3</text>
<text x="14.73" y="329.97" font-size="9.7" textLength="9.92" lengthAdjust="spacingAndGlyphs" fill="#1e1e1e">10</text>
<text x="28.1" y="325.31" font-size="6.2" text-anchor="end" fill="#1e1e1e">2</text>
<text x="14.73" y="348.3" font-size="9.7" textLength="9.92" lengthAdjust="spacingAndGlyphs" fill="#1e1e1e">10</text>
<text x="28.1" y="343.64" font-size="6.2" text-anchor="end" fill="#1e1e1e">1</text>
<text x="14.73" y="366.63" font-size="9.7" textLength="9.92" lengthAdjust="spacingAndGlyphs" fill="#1e1e1e">10</text>
<text x="28.1" y="361.97" font-size="6.2" text-anchor="end" fill="#1e1e1e">0</text>
<text x="12.66" y="384.96" font-size="9.7" textLength="9.92" lengthAdjust="spacingAndGlyphs" fill="#1e1e1e">10</text>
<text x="28.1" y="380.3" font-size="6.2" text-anchor="end" fill="#1e1e1e">-1</text>
<text x="12.66" y="403.29" font-size="9.7" textLength="9.92" lengthAdjust="spacingAndGlyphs" fill="#1e1e1e">10</text>
<text x="28.1" y="398.63" font-size="6.2" text-anchor="end" fill="#1e1e1e">-2</text>
<text x="12.66" y="421.62" font-size="9.7" textLength="9.92" lengthAdjust="spacingAndGlyphs" fill="#1e1e1e">10</text>
<text x="28.1" y="416.96" font-size="6.2" text-anchor="end" fill="#1e1e1e">-3</text>
<text x="27.62" y="431.85" font-size="9.7" textLength="4.96" lengthAdjust="spacingAndGlyphs" fill="#1e1e1e">0</text>
<text x="82.99" y="431.85" font-size="9.7" textLength="9.92" lengthAdjust="spacingAndGlyphs" fill="#1e1e1e">50</text>
<text x="138.36" y="431.85" font-size="9.7" textLength="14.89" lengthAdjust="spacingAndGlyphs" fill="#1e1e1e">100</text>
<text x="196.21" y="431.85" font-size="9.7" textLength="14.89" lengthAdjust="spacingAndGlyphs" fill="#1e1e1e">150</text>
<text x="69.2" y="441.3" font-size="9.9" font-weight="bold" textLength="118.7" lengthAdjust="spacingAndGlyphs" fill="#1c1c1c" style="stroke:#1c1c1c;stroke-width:0.2px">Solar zenith angle [degree]</text>
<g transform="translate(9.9 391) rotate(-90)" font-weight="bold" fill="#1c1c1c" style="stroke:#1c1c1c">
<text x="0" y="0" font-size="9.9" textLength="105.79" lengthAdjust="spacingAndGlyphs">Dust number density [m</text>
<text x="105.89" y="-4.95" font-size="5.54" textLength="4.93" lengthAdjust="spacingAndGlyphs">-3</text>
<text x="110.92" y="0" font-size="9.9" textLength="3.08" lengthAdjust="spacingAndGlyphs">]</text>
</g>
<clipPath id="clip-c"><rect x="30.1" y="241.5" width="198.69" height="181.25"/></clipPath>
<g clip-path="url(#clip-c)">
<path d="M30.3 246.8 C32.75 246.82 40.05 246.82 45 246.9 C49.95 246.98 54.17 246.95 60 247.3 C65.83 247.65 73.33 248.18 80 249 C86.67 249.82 94.17 250.95 100 252.2 C105.83 253.45 111.17 255.2 115 256.5 C118.83 257.8 121.17 259.2 123 260 C124.83 260.8 125 261 126 261.3 C127 261.6 127.83 261.88 129 261.8 C130.17 261.72 131.5 261.15 133 260.8 C134.5 260.45 136.33 259.77 138 259.7 C139.67 259.63 141.33 260.15 143 260.4 C144.67 260.65 145.92 260.9 148 261.2 C150.08 261.5 151.83 262.12 155.5 262.2 C159.17 262.28 164.25 261.82 170 261.7 C175.75 261.58 180.5 261.53 190 261.5 C199.5 261.47 220.83 261.5 227 261.5" stroke="#303030" stroke-width="1.3" fill="none" stroke-linejoin="round"/>
<path d="M30.3 293.5 C32.75 293.55 40.05 293.6 45 293.8 C49.95 294 54.17 294.33 60 294.7 C65.83 295.07 73.33 295.28 80 296 C86.67 296.72 94.17 297.83 100 299 C105.83 300.17 111.17 301.78 115 303 C118.83 304.22 121.17 305.55 123 306.3 C124.83 307.05 125 307.22 126 307.5 C127 307.78 127.83 308.08 129 308 C130.17 307.92 131.5 307.33 133 307 C134.5 306.67 136.33 306.03 138 306 C139.67 305.97 141.33 306.52 143 306.8 C144.67 307.08 145.67 307.42 148 307.7 C150.33 307.98 152.5 308.45 157 308.5 C161.5 308.55 163.33 308.13 175 308 C186.67 307.87 218.33 307.75 227 307.7" stroke="#303030" stroke-width="1.3" fill="none" stroke-linejoin="round" stroke-dasharray="4.8 4.5"/>
<path d="M30.3 339.7 C32.75 339.77 40.05 339.88 45 340.1 C49.95 340.32 54.17 340.57 60 341 C65.83 341.43 73.33 341.87 80 342.7 C86.67 343.53 94.17 344.83 100 346 C105.83 347.17 111.17 348.53 115 349.7 C118.83 350.87 121.17 352.3 123 353 C124.83 353.7 125 353.7 126 353.9 C127 354.1 127.67 354.38 129 354.2 C130.33 354.02 132.33 353.2 134 352.8 C135.67 352.4 137.33 351.83 139 351.8 C140.67 351.77 142.5 352.32 144 352.6 C145.5 352.88 145.83 353.18 148 353.5 C150.17 353.82 152.5 354.42 157 354.5 C161.5 354.58 163.33 354.12 175 354 C186.67 353.88 218.33 353.79 227 353.75" stroke="#303030" stroke-width="1.1" fill="none" stroke-linejoin="round" stroke-dasharray="5.6 1.4 1 1.4"/>
<path d="M30.3 386 C32.75 386.07 40.05 386.2 45 386.4 C49.95 386.6 54.17 386.77 60 387.2 C65.83 387.63 73.33 388.28 80 389 C86.67 389.72 94.17 390.47 100 391.5 C105.83 392.53 111.17 394.08 115 395.2 C118.83 396.32 120.83 397.32 123 398.2 C125.17 399.08 126.58 399.87 128 400.5 C129.42 401.13 130.42 401.98 131.5 402 C132.58 402.02 133.58 401.18 134.5 400.6 C135.42 400.02 135.75 399.48 137 398.5 C138.25 397.52 140.75 395.5 142 394.75 C143.25 394 143.67 393.88 144.5 394 C145.33 394.12 146.08 394.33 147 395.5 C147.92 396.67 148.67 398.42 150 401 C151.33 403.58 153.33 407.88 155 411 C156.67 414.12 158.67 417.67 160 419.75 C161.33 421.83 161.83 422.38 163 423.5 C164.17 424.62 166 426 167 426.5 C168 427 168.17 427 169 426.5 C169.83 426 171 424.62 172 423.5 C173 422.38 173.67 421.21 175 419.75 C176.33 418.29 178.33 416.08 180 414.75 C181.67 413.42 183.33 412.46 185 411.75 C186.67 411.04 187.5 410.79 190 410.5 C192.5 410.21 193.83 410.08 200 410 C206.17 409.92 222.5 410 227 410" stroke="#303030" stroke-width="1.1" fill="none" stroke-linejoin="round" stroke-dasharray="4.6 1.4 1 1.4 1 1.4"/>
</g>
<path d="M146.75 363.5H189.25" stroke="#303030" stroke-width="0.99" fill="none" stroke-linejoin="round" stroke-dasharray="4 1.4 1.1 1.4 1.1 1.4"/>
<text x="196.8" y="367.04" font-size="9.81" font-weight="bold" textLength="10.21" lengthAdjust="spacingAndGlyphs" fill="#1e1e1e">10</text>
<text x="207.01" y="362.24" font-size="5.22" font-weight="bold" textLength="4.87" lengthAdjust="spacingAndGlyphs" fill="#1e1e1e">-4</text>
<text x="212.18" y="367.04" font-size="9.81" font-weight="bold" textLength="14.97" lengthAdjust="spacingAndGlyphs" fill="#1e1e1e">[m]</text>
<path d="M146.75 374.75H189.25" stroke="#303030" stroke-width="0.99" fill="none" stroke-linejoin="round" stroke-dasharray="4 1.5 1.2 1.6"/>
<text x="196.8" y="378.29" font-size="9.81" font-weight="bold" textLength="10.21" lengthAdjust="spacingAndGlyphs" fill="#1e1e1e">10</text>
<text x="207.01" y="373.49" font-size="5.22" font-weight="bold" textLength="4.87" lengthAdjust="spacingAndGlyphs" fill="#1e1e1e">-5</text>
<text x="212.18" y="378.29" font-size="9.81" font-weight="bold" textLength="14.97" lengthAdjust="spacingAndGlyphs" fill="#1e1e1e">[m]</text>
<path d="M146.75 386H189.25" stroke="#303030" stroke-width="1.17" fill="none" stroke-linejoin="round" stroke-dasharray="4 3.5"/>
<text x="196.8" y="389.54" font-size="9.81" font-weight="bold" textLength="10.21" lengthAdjust="spacingAndGlyphs" fill="#1e1e1e">10</text>
<text x="207.01" y="384.74" font-size="5.22" font-weight="bold" textLength="4.87" lengthAdjust="spacingAndGlyphs" fill="#1e1e1e">-6</text>
<text x="212.18" y="389.54" font-size="9.81" font-weight="bold" textLength="14.97" lengthAdjust="spacingAndGlyphs" fill="#1e1e1e">[m]</text>
<path d="M146.75 397.25H189.25" stroke="#303030" stroke-width="1.17" fill="none" stroke-linejoin="round"/>
<text x="196.8" y="400.79" font-size="9.81" font-weight="bold" textLength="10.21" lengthAdjust="spacingAndGlyphs" fill="#1e1e1e">10</text>
<text x="207.01" y="395.99" font-size="5.22" font-weight="bold" textLength="4.87" lengthAdjust="spacingAndGlyphs" fill="#1e1e1e">-7</text>
<text x="212.18" y="400.79" font-size="9.81" font-weight="bold" textLength="14.97" lengthAdjust="spacingAndGlyphs" fill="#1e1e1e">[m]</text>
<text x="120.5" y="462.5" font-size="13.5" textLength="14" lengthAdjust="spacingAndGlyphs" style="font-family:'Liberation Serif',serif;stroke-width:0" fill="#3a3a3a">(c)</text>
</g>
<g id="panel-d">
<path d="M293.9 243.5 V422.75 H491" stroke="#303030" stroke-width="1.15" fill="none" stroke-linejoin="miter"/>
<path d="M293.9 417.77h4.5M293.9 398.49h4.5M293.9 379.21h4.5M293.9 359.93h4.5M293.9 340.65h4.5M293.9 321.37h4.5M293.9 302.09h4.5M293.9 282.81h4.5M293.9 263.53h4.5M293.9 244.25h4.5M351.75 422.75v-4.5M409.6 422.75v-4.5M467.45 422.75v-4.5" stroke="#303030" stroke-width="1.15" fill="none"/>
<path d="M293.9 422.05h2.3M293.9 420.76h2.3M293.9 419.64h2.3M293.9 418.65h2.3M293.9 411.97h2.3M293.9 408.57h2.3M293.9 406.16h2.3M293.9 404.29h2.3M293.9 402.77h2.3M293.9 401.48h2.3M293.9 400.36h2.3M293.9 399.37h2.3M293.9 392.69h2.3M293.9 389.29h2.3M293.9 386.88h2.3M293.9 385.01h2.3M293.9 383.49h2.3M293.9 382.2h2.3M293.9 381.08h2.3M293.9 380.09h2.3M293.9 373.41h2.3M293.9 370.01h2.3M293.9 367.6h2.3M293.9 365.73h2.3M293.9 364.21h2.3M293.9 362.92h2.3M293.9 361.8h2.3M293.9 360.81h2.3M293.9 354.13h2.3M293.9 350.73h2.3M293.9 348.32h2.3M293.9 346.45h2.3M293.9 344.93h2.3M293.9 343.64h2.3M293.9 342.52h2.3M293.9 341.53h2.3M293.9 334.85h2.3M293.9 331.45h2.3M293.9 329.04h2.3M293.9 327.17h2.3M293.9 325.65h2.3M293.9 324.36h2.3M293.9 323.24h2.3M293.9 322.25h2.3M293.9 315.57h2.3M293.9 312.17h2.3M293.9 309.76h2.3M293.9 307.89h2.3M293.9 306.37h2.3M293.9 305.08h2.3M293.9 303.96h2.3M293.9 302.97h2.3M293.9 296.29h2.3M293.9 292.89h2.3M293.9 290.48h2.3M293.9 288.61h2.3M293.9 287.09h2.3M293.9 285.8h2.3M293.9 284.68h2.3M293.9 283.69h2.3M293.9 277.01h2.3M293.9 273.61h2.3M293.9 271.2h2.3M293.9 269.33h2.3M293.9 267.81h2.3M293.9 266.52h2.3M293.9 265.4h2.3M293.9 264.41h2.3M293.9 257.73h2.3M293.9 254.33h2.3M293.9 251.92h2.3M293.9 250.05h2.3M293.9 248.53h2.3M293.9 247.24h2.3M293.9 246.12h2.3M293.9 245.13h2.3M305.47 422.75v-2.3M317.04 422.75v-2.3M328.61 422.75v-2.3M340.18 422.75v-2.3M363.32 422.75v-2.3M374.89 422.75v-2.3M386.46 422.75v-2.3M398.03 422.75v-2.3M421.17 422.75v-2.3M432.74 422.75v-2.3M444.31 422.75v-2.3M455.88 422.75v-2.3M479.02 422.75v-2.3M490.59 422.75v-2.3" stroke="#555" stroke-width="0.7" fill="none"/>
<text x="277.93" y="247.79" font-size="9.7" textLength="9.92" lengthAdjust="spacingAndGlyphs" fill="#1e1e1e">10</text>
<text x="291.3" y="243.13" font-size="6.2" text-anchor="end" fill="#1e1e1e">6</text>
<text x="277.93" y="267.07" font-size="9.7" textLength="9.92" lengthAdjust="spacingAndGlyphs" fill="#1e1e1e">10</text>
<text x="291.3" y="262.41" font-size="6.2" text-anchor="end" fill="#1e1e1e">5</text>
<text x="277.93" y="286.35" font-size="9.7" textLength="9.92" lengthAdjust="spacingAndGlyphs" fill="#1e1e1e">10</text>
<text x="291.3" y="281.69" font-size="6.2" text-anchor="end" fill="#1e1e1e">4</text>
<text x="277.93" y="305.63" font-size="9.7" textLength="9.92" lengthAdjust="spacingAndGlyphs" fill="#1e1e1e">10</text>
<text x="291.3" y="300.97" font-size="6.2" text-anchor="end" fill="#1e1e1e">3</text>
<text x="277.93" y="324.91" font-size="9.7" textLength="9.92" lengthAdjust="spacingAndGlyphs" fill="#1e1e1e">10</text>
<text x="291.3" y="320.25" font-size="6.2" text-anchor="end" fill="#1e1e1e">2</text>
<text x="277.93" y="344.19" font-size="9.7" textLength="9.92" lengthAdjust="spacingAndGlyphs" fill="#1e1e1e">10</text>
<text x="291.3" y="339.53" font-size="6.2" text-anchor="end" fill="#1e1e1e">1</text>
<text x="277.93" y="363.47" font-size="9.7" textLength="9.92" lengthAdjust="spacingAndGlyphs" fill="#1e1e1e">10</text>
<text x="291.3" y="358.81" font-size="6.2" text-anchor="end" fill="#1e1e1e">0</text>
<text x="275.86" y="382.75" font-size="9.7" textLength="9.92" lengthAdjust="spacingAndGlyphs" fill="#1e1e1e">10</text>
<text x="291.3" y="378.09" font-size="6.2" text-anchor="end" fill="#1e1e1e">-1</text>
<text x="275.86" y="402.03" font-size="9.7" textLength="9.92" lengthAdjust="spacingAndGlyphs" fill="#1e1e1e">10</text>
<text x="291.3" y="397.37" font-size="6.2" text-anchor="end" fill="#1e1e1e">-2</text>
<text x="275.86" y="421.31" font-size="9.7" textLength="9.92" lengthAdjust="spacingAndGlyphs" fill="#1e1e1e">10</text>
<text x="291.3" y="416.65" font-size="6.2" text-anchor="end" fill="#1e1e1e">-3</text>
<text x="291.42" y="431.85" font-size="9.7" textLength="4.96" lengthAdjust="spacingAndGlyphs" fill="#1e1e1e">0</text>
<text x="346.79" y="431.85" font-size="9.7" textLength="9.92" lengthAdjust="spacingAndGlyphs" fill="#1e1e1e">50</text>
<text x="402.16" y="431.85" font-size="9.7" textLength="14.89" lengthAdjust="spacingAndGlyphs" fill="#1e1e1e">100</text>
<text x="460.01" y="431.85" font-size="9.7" textLength="14.89" lengthAdjust="spacingAndGlyphs" fill="#1e1e1e">150</text>
<text x="332.4" y="441.3" font-size="9.9" font-weight="bold" textLength="118.4" lengthAdjust="spacingAndGlyphs" fill="#1c1c1c" style="stroke:#1c1c1c;stroke-width:0.2px">Solar zenith angle [degree]</text>
<g transform="translate(273.5 391.4) rotate(-90)" font-weight="bold" fill="#1c1c1c" style="stroke:#1c1c1c">
<text x="0" y="0" font-size="9.9" textLength="106.53" lengthAdjust="spacingAndGlyphs">Dust number density [m</text>
<text x="106.63" y="-4.95" font-size="5.54" textLength="4.97" lengthAdjust="spacingAndGlyphs">-3</text>
<text x="111.7" y="0" font-size="9.9" textLength="3.1" lengthAdjust="spacingAndGlyphs">]</text>
</g>
<g>
<path d="M293.6 245.5 C293.92 245.67 295.15 246.48 296 246.75 C296.85 247.02 299.2 247.27 300 247.5 C300.8 247.73 301.33 248.47 302 248.5 C302.67 248.53 304.2 247.75 305 247.75 C305.8 247.75 307.07 248.5 308 248.5 C308.93 248.5 310.93 247.75 312 247.75 C313.07 247.75 314.8 248.5 316 248.5 C317.2 248.5 319.13 247.75 321 247.75 C322.87 247.75 327.47 248.23 330 248.5 C332.53 248.77 337.33 249.48 340 249.75 C342.67 250.02 347.33 250.17 350 250.5 C352.67 250.83 357.47 251.8 360 252.25 C362.53 252.7 367.13 253.68 369 253.9 C370.87 254.12 372.53 253.63 374 253.9 C375.47 254.17 378 255.3 380 255.9 C382 256.5 387 257.91 389 258.4 C391 258.89 393.67 259.04 395 259.6 C396.33 260.16 398.33 262.09 399 262.6 C399.67 263.11 399.49 263.19 400 263.4 C400.51 263.61 402.15 264.2 402.8 264.2 C403.45 264.2 404.19 263.53 404.9 263.4 C405.61 263.27 407.29 263.2 408.1 263.2 C408.91 263.2 410.45 263.89 411 263.4 C411.55 262.91 411.93 260.67 412.2 259.5 C412.47 258.33 412.69 255.57 413 254.6 C413.31 253.63 414.1 252.36 414.5 252.2 C414.9 252.04 415.71 252.97 416 253.4 C416.29 253.83 416.39 254.85 416.7 255.4 C417.01 255.95 417.71 256.98 418.3 257.5 C418.89 258.02 420.39 259.09 421.1 259.3 C421.81 259.51 422.73 258.81 423.6 259.1 C424.47 259.39 426.68 261.45 427.6 261.5 C428.52 261.55 429.85 259.43 430.5 259.5 C431.15 259.57 431.79 261.76 432.5 262 C433.21 262.24 434.8 261.47 435.8 261.3 C436.8 261.13 439.11 260.59 440 260.7 C440.89 260.81 441.7 262.07 442.5 262.1 C443.3 262.13 444.87 260.97 446 260.9 C447.13 260.83 449.47 261.28 451 261.6 C452.53 261.92 456.03 263.23 457.5 263.3 C458.97 263.37 460.87 262.35 462 262.1 C463.13 261.85 465 261.56 466 261.4 C467 261.24 468.7 261.14 469.5 260.9 C470.3 260.66 471.33 259.51 472 259.6 C472.67 259.69 473.63 261.04 474.5 261.6 C475.37 262.16 477.63 263.69 478.5 263.8 C479.37 263.91 480 262.63 481 262.4 C482 262.17 484.87 262.05 486 262.1 C487.13 262.15 489.03 262.71 489.5 262.8" stroke="#303030" stroke-width="1.3" fill="none" stroke-linejoin="round"/>
<path d="M293.6 294.75 C293.79 295.08 294.41 296.68 295 297.25 C295.59 297.82 297.07 299 298 299 C298.93 299 300.93 297.58 302 297.25 C303.07 296.92 304.27 296.57 306 296.5 C307.73 296.43 312.47 296.65 315 296.75 C317.53 296.85 322.33 297.02 325 297.25 C327.67 297.48 332.33 298.17 335 298.5 C337.67 298.83 342.33 299.42 345 299.75 C347.67 300.08 351.8 300.59 355 301 C358.2 301.41 366.2 302.35 369 302.8 C371.8 303.25 374 303.85 376 304.4 C378 304.95 381.6 306.23 384 306.9 C386.4 307.57 391.87 308.64 394 309.4 C396.13 310.16 398.53 312.11 400 312.6 C401.47 313.09 403.67 313.1 405 313.1 C406.33 313.1 409.07 313.6 410 312.6 C410.93 311.6 411.47 306.87 412 305.6 C412.53 304.33 413.27 303.1 414 303.1 C414.73 303.1 416.23 304.76 417.5 305.6 C418.77 306.44 421.7 308.73 423.5 309.4 C425.3 310.07 428.8 310.53 431 310.6 C433.2 310.67 437.47 309.97 440 309.9 C442.53 309.83 447.53 309.85 450 310.1 C452.47 310.35 456.37 311.8 458.5 311.8 C460.63 311.8 464.2 310.33 466 310.1 C467.8 309.87 470.47 309.7 472 310.1 C473.53 310.5 476.17 312.93 477.5 313.1 C478.83 313.27 480.73 311.47 482 311.4 C483.27 311.33 486 312.2 487 312.6 C488 313 488.97 314.67 489.5 314.4 C490.03 314.13 490.8 311.11 491 310.6" stroke="#303030" stroke-width="1.3" fill="none" stroke-linejoin="round" stroke-dasharray="4.8 4.5"/>
<path d="M293.6 345.5 C294.05 345.67 296.15 346.52 297 346.75 C297.85 346.98 298.27 347.12 300 347.25 C301.73 347.38 307.33 347.75 310 347.75 C312.67 347.75 317.33 347.23 320 347.25 C322.67 347.27 327.33 347.73 330 347.9 C332.67 348.07 336.67 348.19 340 348.5 C343.33 348.81 351.13 349.69 355 350.25 C358.87 350.81 365.8 352.11 369 352.7 C372.2 353.29 376.33 354.11 379 354.7 C381.67 355.29 386.67 356.27 389 357.1 C391.33 357.93 395.17 360.23 396.5 360.9 C397.83 361.57 398 362.01 399 362.1 C400 362.19 402.53 361.76 404 361.6 C405.47 361.44 408.87 361.66 410 360.9 C411.13 360.14 411.9 357.57 412.5 355.9 C413.1 354.23 414.03 348.89 414.5 348.4 C414.97 347.91 415.4 351.2 416 352.2 C416.6 353.2 417.8 355.25 419 355.9 C420.2 356.55 423.4 356.77 425 357.1 C426.6 357.43 429.33 358.29 431 358.4 C432.67 358.51 435.5 357.74 437.5 357.9 C439.5 358.06 443.53 359.2 446 359.6 C448.47 360 454 360.63 456 360.9 C458 361.17 459.67 361.77 461 361.6 C462.33 361.43 464.67 360.03 466 359.6 C467.33 359.17 469.8 358.33 471 358.4 C472.2 358.47 473.8 359.83 475 360.1 C476.2 360.37 478.53 360.36 480 360.4 C481.47 360.44 484.53 360.27 486 360.4 C487.47 360.53 490.33 361.27 491 361.4" stroke="#303030" stroke-width="1.1" fill="none" stroke-linejoin="round" stroke-dasharray="5.6 1.4 1 1.4"/>
<path d="M293.6 396 C293.92 396.27 295.15 397.9 296 398 C296.85 398.1 298.67 397.02 300 396.75 C301.33 396.48 304 396.1 306 396 C308 395.9 312.47 395.93 315 396 C317.53 396.07 322.33 396.33 325 396.5 C327.67 396.67 332.33 396.98 335 397.25 C337.67 397.52 342.33 398.17 345 398.5 C347.67 398.83 352.73 399.42 355 399.75 C357.27 400.08 360.13 400.69 362 401 C363.87 401.31 367.27 401.87 369 402.1 C370.73 402.33 373.33 402.29 375 402.7 C376.67 403.11 379.63 404.64 381.5 405.2 C383.37 405.76 387.33 406.34 389 406.9 C390.67 407.46 392.67 408.91 394 409.4 C395.33 409.89 397.53 410.27 399 410.6 C400.47 410.93 403.67 411.39 405 411.9 C406.33 412.41 408 413.77 409 414.4 C410 415.03 411.57 416.17 412.5 416.6 C413.43 417.03 414.47 417.44 416 417.6 C417.53 417.76 422.67 418.11 424 417.8 C425.33 417.49 425.53 416.46 426 415.3 C426.47 414.14 427.09 410.29 427.5 409.1 C427.91 407.91 428.63 406.61 429.1 406.4 C429.57 406.19 430.48 406.95 431 407.5 C431.52 408.05 432.47 409.99 433 410.5 C433.53 411.01 434.15 411.18 435 411.3 C435.85 411.42 438.53 411.04 439.4 411.4 C440.27 411.76 440.95 413.25 441.5 414 C442.05 414.75 443.03 416.49 443.5 417 C443.97 417.51 444.56 418.07 445 417.8 C445.44 417.53 446.32 415.77 446.8 415 C447.28 414.23 448.13 411.93 448.6 412 C449.07 412.07 449.87 414.73 450.3 415.5 C450.73 416.27 449.31 417.49 451.8 417.8 C454.29 418.11 466.47 418.31 469 417.8 C471.53 417.29 470.36 414.77 470.8 414 C471.24 413.23 471.9 411.93 472.3 412 C472.7 412.07 473.4 413.73 473.8 414.5 C474.2 415.27 473.01 417.36 475.3 417.8 C477.59 418.24 488.91 417.8 491 417.8" stroke="#303030" stroke-width="1.1" fill="none" stroke-linejoin="round" stroke-dasharray="4.6 1.4 1 1.4 1 1.4"/>
</g>
<path d="M305.9 365.5H337.7" stroke="#303030" stroke-width="0.94" fill="none" stroke-linejoin="round" stroke-dasharray="6 1.5 1 1.5 1 1.5"/>
<text x="343" y="367.68" font-size="6.9" font-weight="bold" style="stroke-width:0.3px" textLength="32.2" lengthAdjust="spacingAndGlyphs" fill="#1e1e1e">(1-1.5)×10</text>
<text x="375.3" y="364.58" font-size="4" font-weight="bold" style="stroke-width:0.3px" textLength="3.1" lengthAdjust="spacingAndGlyphs" fill="#1e1e1e">-4</text>
<text x="381.3" y="367.68" font-size="6.9" font-weight="bold" style="stroke-width:0.3px" textLength="10" lengthAdjust="spacingAndGlyphs" fill="#1e1e1e">[m]</text>
<path d="M305.9 373.75H337.7" stroke="#303030" stroke-width="0.94" fill="none" stroke-linejoin="round" stroke-dasharray="6 1.8 1 1.8"/>
<text x="343" y="375.93" font-size="6.9" font-weight="bold" style="stroke-width:0.3px" textLength="32.2" lengthAdjust="spacingAndGlyphs" fill="#1e1e1e">(1-1.5)×10</text>
<text x="375.3" y="372.83" font-size="4" font-weight="bold" style="stroke-width:0.3px" textLength="3.1" lengthAdjust="spacingAndGlyphs" fill="#1e1e1e">-5</text>
<text x="381.3" y="375.93" font-size="6.9" font-weight="bold" style="stroke-width:0.3px" textLength="10" lengthAdjust="spacingAndGlyphs" fill="#1e1e1e">[m]</text>
<path d="M305.9 382H337.7" stroke="#303030" stroke-width="1.1" fill="none" stroke-linejoin="round" stroke-dasharray="6.3 3.1"/>
<text x="343" y="384.18" font-size="6.9" font-weight="bold" style="stroke-width:0.3px" textLength="32.2" lengthAdjust="spacingAndGlyphs" fill="#1e1e1e">(1-1.5)×10</text>
<text x="375.3" y="381.08" font-size="4" font-weight="bold" style="stroke-width:0.3px" textLength="3.1" lengthAdjust="spacingAndGlyphs" fill="#1e1e1e">-6</text>
<text x="381.3" y="384.18" font-size="6.9" font-weight="bold" style="stroke-width:0.3px" textLength="10" lengthAdjust="spacingAndGlyphs" fill="#1e1e1e">[m]</text>
<path d="M305.9 390.25H337.7" stroke="#303030" stroke-width="1.1" fill="none" stroke-linejoin="round"/>
<text x="343" y="392.43" font-size="6.9" font-weight="bold" style="stroke-width:0.3px" textLength="32.2" lengthAdjust="spacingAndGlyphs" fill="#1e1e1e">(1-1.5)×10</text>
<text x="375.3" y="389.33" font-size="4" font-weight="bold" style="stroke-width:0.3px" textLength="3.1" lengthAdjust="spacingAndGlyphs" fill="#1e1e1e">-7</text>
<text x="381.3" y="392.43" font-size="6.9" font-weight="bold" style="stroke-width:0.3px" textLength="10" lengthAdjust="spacingAndGlyphs" fill="#1e1e1e">[m]</text>
<text x="383.3" y="462.5" font-size="13.5" textLength="15.2" lengthAdjust="spacingAndGlyphs" style="font-family:'Liberation Serif',serif;stroke-width:0" fill="#3a3a3a">(d)</text>
</g>
<g id="panel-e">
<path d="M29.2 484 V664 H225.76" stroke="#303030" stroke-width="1.15" fill="none" stroke-linejoin="miter"/>
<path d="M29.2 659.38h4.5M29.2 640.01h4.5M29.2 620.64h4.5M29.2 601.27h4.5M29.2 581.9h4.5M29.2 562.53h4.5M29.2 543.16h4.5M29.2 523.79h4.5M29.2 504.42h4.5M29.2 485.05h4.5M83.8 664v-4.5M138.4 664v-4.5M193 664v-4.5" stroke="#303030" stroke-width="1.15" fill="none"/>
<path d="M29.2 663.68h2.3M29.2 662.38h2.3M29.2 661.26h2.3M29.2 660.27h2.3M29.2 653.55h2.3M29.2 650.14h2.3M29.2 647.72h2.3M29.2 645.84h2.3M29.2 644.31h2.3M29.2 643.01h2.3M29.2 641.89h2.3M29.2 640.9h2.3M29.2 634.18h2.3M29.2 630.77h2.3M29.2 628.35h2.3M29.2 626.47h2.3M29.2 624.94h2.3M29.2 623.64h2.3M29.2 622.52h2.3M29.2 621.53h2.3M29.2 614.81h2.3M29.2 611.4h2.3M29.2 608.98h2.3M29.2 607.1h2.3M29.2 605.57h2.3M29.2 604.27h2.3M29.2 603.15h2.3M29.2 602.16h2.3M29.2 595.44h2.3M29.2 592.03h2.3M29.2 589.61h2.3M29.2 587.73h2.3M29.2 586.2h2.3M29.2 584.9h2.3M29.2 583.78h2.3M29.2 582.79h2.3M29.2 576.07h2.3M29.2 572.66h2.3M29.2 570.24h2.3M29.2 568.36h2.3M29.2 566.83h2.3M29.2 565.53h2.3M29.2 564.41h2.3M29.2 563.42h2.3M29.2 556.7h2.3M29.2 553.29h2.3M29.2 550.87h2.3M29.2 548.99h2.3M29.2 547.46h2.3M29.2 546.16h2.3M29.2 545.04h2.3M29.2 544.05h2.3M29.2 537.33h2.3M29.2 533.92h2.3M29.2 531.5h2.3M29.2 529.62h2.3M29.2 528.09h2.3M29.2 526.79h2.3M29.2 525.67h2.3M29.2 524.68h2.3M29.2 517.96h2.3M29.2 514.55h2.3M29.2 512.13h2.3M29.2 510.25h2.3M29.2 508.72h2.3M29.2 507.42h2.3M29.2 506.3h2.3M29.2 505.31h2.3M29.2 498.59h2.3M29.2 495.18h2.3M29.2 492.76h2.3M29.2 490.88h2.3M29.2 489.35h2.3M29.2 488.05h2.3M29.2 486.93h2.3M29.2 485.94h2.3M40.12 664v-2.3M51.04 664v-2.3M61.96 664v-2.3M72.88 664v-2.3M94.72 664v-2.3M105.64 664v-2.3M116.56 664v-2.3M127.48 664v-2.3M149.32 664v-2.3M160.24 664v-2.3M171.16 664v-2.3M182.08 664v-2.3M203.92 664v-2.3M214.84 664v-2.3M225.76 664v-2.3" stroke="#555" stroke-width="0.7" fill="none"/>
<text x="13.53" y="488.4" font-size="9.7" textLength="9.92" lengthAdjust="spacingAndGlyphs" fill="#1e1e1e">10</text>
<text x="26.9" y="483.74" font-size="6.2" text-anchor="end" fill="#1e1e1e">6</text>
<text x="13.53" y="507.77" font-size="9.7" textLength="9.92" lengthAdjust="spacingAndGlyphs" fill="#1e1e1e">10</text>
<text x="26.9" y="503.11" font-size="6.2" text-anchor="end" fill="#1e1e1e">5</text>
<text x="13.53" y="527.14" font-size="9.7" textLength="9.92" lengthAdjust="spacingAndGlyphs" fill="#1e1e1e">10</text>
<text x="26.9" y="522.48" font-size="6.2" text-anchor="end" fill="#1e1e1e">4</text>
<text x="13.53" y="546.51" font-size="9.7" textLength="9.92" lengthAdjust="spacingAndGlyphs" fill="#1e1e1e">10</text>
<text x="26.9" y="541.85" font-size="6.2" text-anchor="end" fill="#1e1e1e">3</text>
<text x="13.53" y="565.88" font-size="9.7" textLength="9.92" lengthAdjust="spacingAndGlyphs" fill="#1e1e1e">10</text>
<text x="26.9" y="561.22" font-size="6.2" text-anchor="end" fill="#1e1e1e">2</text>
<text x="13.53" y="585.25" font-size="9.7" textLength="9.92" lengthAdjust="spacingAndGlyphs" fill="#1e1e1e">10</text>
<text x="26.9" y="580.59" font-size="6.2" text-anchor="end" fill="#1e1e1e">1</text>
<text x="13.53" y="604.62" font-size="9.7" textLength="9.92" lengthAdjust="spacingAndGlyphs" fill="#1e1e1e">10</text>
<text x="26.9" y="599.96" font-size="6.2" text-anchor="end" fill="#1e1e1e">0</text>
<text x="11.46" y="623.99" font-size="9.7" textLength="9.92" lengthAdjust="spacingAndGlyphs" fill="#1e1e1e">10</text>
<text x="26.9" y="619.33" font-size="6.2" text-anchor="end" fill="#1e1e1e">-1</text>
<text x="11.46" y="643.36" font-size="9.7" textLength="9.92" lengthAdjust="spacingAndGlyphs" fill="#1e1e1e">10</text>
<text x="26.9" y="638.7" font-size="6.2" text-anchor="end" fill="#1e1e1e">-2</text>
<text x="11.46" y="662.73" font-size="9.7" textLength="9.92" lengthAdjust="spacingAndGlyphs" fill="#1e1e1e">10</text>
<text x="26.9" y="658.07" font-size="6.2" text-anchor="end" fill="#1e1e1e">-3</text>
<text x="26.72" y="673.1" font-size="9.7" textLength="4.96" lengthAdjust="spacingAndGlyphs" fill="#1e1e1e">0</text>
<text x="78.84" y="673.1" font-size="9.7" textLength="9.92" lengthAdjust="spacingAndGlyphs" fill="#1e1e1e">50</text>
<text x="130.96" y="673.1" font-size="9.7" textLength="14.89" lengthAdjust="spacingAndGlyphs" fill="#1e1e1e">100</text>
<text x="185.56" y="673.1" font-size="9.7" textLength="14.89" lengthAdjust="spacingAndGlyphs" fill="#1e1e1e">150</text>
<text x="67.4" y="682.4" font-size="9.9" font-weight="bold" textLength="119" lengthAdjust="spacingAndGlyphs" fill="#1c1c1c" style="stroke:#1c1c1c;stroke-width:0.2px">Solar zenith angle [degree]</text>
<g transform="translate(9.9 632.4) rotate(-90)" font-weight="bold" fill="#1c1c1c" style="stroke:#1c1c1c">
<text x="0" y="0" font-size="9.9" textLength="106.16" lengthAdjust="spacingAndGlyphs">Dust number density [m</text>
<text x="106.26" y="-4.95" font-size="5.54" textLength="4.95" lengthAdjust="spacingAndGlyphs">-3</text>
<text x="111.31" y="0" font-size="9.9" textLength="3.09" lengthAdjust="spacingAndGlyphs">]</text>
</g>
<g>
<path d="M28.9 488.75 C32.42 488.88 43.98 489.12 50 489.5 C56.02 489.88 60 490.38 65 491 C70 491.62 75.5 492.46 80 493.25 C84.5 494.04 88.67 494.92 92 495.75 C95.33 496.58 97.33 497.33 100 498.25 C102.67 499.17 106 500.52 108 501.25 C110 501.98 110.92 502.27 112 502.6 C113.08 502.93 113.5 503.27 114.5 503.25 C115.5 503.23 116.92 502.81 118 502.5 C119.08 502.19 120.17 501.62 121 501.4 C121.83 501.18 122.17 501.18 123 501.2 C123.83 501.22 124.67 501.24 126 501.5 C127.33 501.76 129.5 502.4 131 502.75 C132.5 503.1 133.67 503.39 135 503.6 C136.33 503.81 136.5 504.02 139 504 C141.5 503.98 145.67 503.62 150 503.5 C154.33 503.38 152.33 503.29 165 503.25 C177.67 503.21 215.83 503.25 226 503.25" stroke="#303030" stroke-width="1.3" fill="none" stroke-linejoin="round"/>
<path d="M28.9 537.5 C32.42 537.62 43.98 537.83 50 538.25 C56.02 538.67 60 539.38 65 540 C70 540.62 75.5 541.25 80 542 C84.5 542.75 88.67 543.67 92 544.5 C95.33 545.33 97.33 546.08 100 547 C102.67 547.92 106 549.3 108 550 C110 550.7 110.92 550.95 112 551.2 C113.08 551.45 113.5 551.53 114.5 551.5 C115.5 551.47 116.92 551.22 118 551 C119.08 550.78 120.17 550.37 121 550.2 C121.83 550.03 121.83 549.91 123 550 C124.17 550.09 126 550.42 128 550.75 C130 551.08 132.83 551.71 135 552 C137.17 552.29 138.5 552.5 141 552.5 C143.5 552.5 146 552.17 150 552 C154 551.83 152.33 551.58 165 551.5 C177.67 551.42 215.83 551.5 226 551.5" stroke="#303030" stroke-width="1.3" fill="none" stroke-linejoin="round" stroke-dasharray="4.8 4.5"/>
<path d="M28.9 585.75 C32.42 585.88 43.98 586.17 50 586.5 C56.02 586.83 60 587.25 65 587.75 C70 588.25 75.5 588.79 80 589.5 C84.5 590.21 88.67 591.17 92 592 C95.33 592.83 97.33 593.54 100 594.5 C102.67 595.46 105.67 596.79 108 597.75 C110.33 598.71 112.5 599.67 114 600.25 C115.5 600.83 116 601.38 117 601.25 C118 601.12 119 600.08 120 599.5 C121 598.92 122 598.38 123 597.75 C124 597.12 125 596.21 126 595.75 C127 595.29 127.83 594.92 129 595 C130.17 595.08 131.5 595.79 133 596.25 C134.5 596.71 136 597.38 138 597.75 C140 598.12 142.17 598.46 145 598.5 C147.83 598.54 141.5 598.12 155 598 C168.5 597.88 214.17 597.79 226 597.75" stroke="#303030" stroke-width="1.1" fill="none" stroke-linejoin="round" stroke-dasharray="5.6 1.4 1 1.4"/>
<path d="M28.9 633.25 C31.58 633.33 39.82 633.42 45 633.75 C50.18 634.08 55 634.71 60 635.25 C65 635.79 70.33 636.38 75 637 C79.67 637.62 84.67 638.46 88 639 C91.33 639.54 93.25 639.83 95 640.25 C96.75 640.67 97.58 640.79 98.5 641.5 C99.42 642.21 99.83 643.17 100.5 644.5 C101.17 645.83 101.92 647.83 102.5 649.5 C103.08 651.17 103.58 652.83 104 654.5 C104.42 656.17 104.73 657.92 105 659.5 C105.27 661.08 105.5 663.25 105.6 664" stroke="#303030" stroke-width="1.1" fill="none" stroke-linejoin="round" stroke-dasharray="4.6 1.4 1 1.4 1 1.4"/>
</g>
<path d="M133.5 610.75H175.5" stroke="#303030" stroke-width="0.99" fill="none" stroke-linejoin="round" stroke-dasharray="4 1.4 1.1 1.4 1.1 1.4"/>
<text x="182.8" y="614.29" font-size="9.81" font-weight="bold" textLength="10.21" lengthAdjust="spacingAndGlyphs" fill="#1e1e1e">10</text>
<text x="193.01" y="609.49" font-size="5.22" font-weight="bold" textLength="4.87" lengthAdjust="spacingAndGlyphs" fill="#1e1e1e">-4</text>
<text x="198.18" y="614.29" font-size="9.81" font-weight="bold" textLength="14.97" lengthAdjust="spacingAndGlyphs" fill="#1e1e1e">[m]</text>
<path d="M133.5 621.75H175.5" stroke="#303030" stroke-width="0.99" fill="none" stroke-linejoin="round" stroke-dasharray="4 1.5 1.2 1.6"/>
<text x="182.8" y="625.29" font-size="9.81" font-weight="bold" textLength="10.21" lengthAdjust="spacingAndGlyphs" fill="#1e1e1e">10</text>
<text x="193.01" y="620.49" font-size="5.22" font-weight="bold" textLength="4.87" lengthAdjust="spacingAndGlyphs" fill="#1e1e1e">-5</text>
<text x="198.18" y="625.29" font-size="9.81" font-weight="bold" textLength="14.97" lengthAdjust="spacingAndGlyphs" fill="#1e1e1e">[m]</text>
<path d="M133.5 632.75H175.5" stroke="#303030" stroke-width="1.17" fill="none" stroke-linejoin="round" stroke-dasharray="4 3.5"/>
<text x="182.8" y="636.29" font-size="9.81" font-weight="bold" textLength="10.21" lengthAdjust="spacingAndGlyphs" fill="#1e1e1e">10</text>
<text x="193.01" y="631.49" font-size="5.22" font-weight="bold" textLength="4.87" lengthAdjust="spacingAndGlyphs" fill="#1e1e1e">-6</text>
<text x="198.18" y="636.29" font-size="9.81" font-weight="bold" textLength="14.97" lengthAdjust="spacingAndGlyphs" fill="#1e1e1e">[m]</text>
<path d="M133.5 643.6H175.5" stroke="#303030" stroke-width="1.17" fill="none" stroke-linejoin="round"/>
<text x="182.8" y="647.14" font-size="9.81" font-weight="bold" textLength="10.21" lengthAdjust="spacingAndGlyphs" fill="#1e1e1e">10</text>
<text x="193.01" y="642.34" font-size="5.22" font-weight="bold" textLength="4.87" lengthAdjust="spacingAndGlyphs" fill="#1e1e1e">-7</text>
<text x="198.18" y="647.14" font-size="9.81" font-weight="bold" textLength="14.97" lengthAdjust="spacingAndGlyphs" fill="#1e1e1e">[m]</text>
<text x="119.35" y="703.5" font-size="13.5" textLength="13.9" lengthAdjust="spacingAndGlyphs" style="font-family:'Liberation Serif',serif;stroke-width:0" fill="#3a3a3a">(e)</text>
</g>
<g id="panel-f">
<path d="M292.5 484 V664.2 H491" stroke="#303030" stroke-width="1.15" fill="none" stroke-linejoin="miter"/>
<path d="M292.5 645.05h4.5M292.5 615.09h4.5M292.5 585.13h4.5M292.5 555.17h4.5M292.5 525.21h4.5M292.5 495.25h4.5M350.5 664.2v-4.5M408.5 664.2v-4.5M466.5 664.2v-4.5" stroke="#303030" stroke-width="1.15" fill="none"/>
<path d="M304.1 664.2v-2.3M315.7 664.2v-2.3M327.3 664.2v-2.3M338.9 664.2v-2.3M362.1 664.2v-2.3M373.7 664.2v-2.3M385.3 664.2v-2.3M396.9 664.2v-2.3M420.1 664.2v-2.3M431.7 664.2v-2.3M443.3 664.2v-2.3M454.9 664.2v-2.3M478.1 664.2v-2.3M489.7 664.2v-2.3" stroke="#555" stroke-width="0.7" fill="none"/>
<text x="276.53" y="498.79" font-size="9.7" textLength="9.92" lengthAdjust="spacingAndGlyphs" fill="#1e1e1e">10</text>
<text x="289.9" y="494.13" font-size="6.2" text-anchor="end" fill="#1e1e1e">5</text>
<text x="276.53" y="528.75" font-size="9.7" textLength="9.92" lengthAdjust="spacingAndGlyphs" fill="#1e1e1e">10</text>
<text x="289.9" y="524.09" font-size="6.2" text-anchor="end" fill="#1e1e1e">3</text>
<text x="276.53" y="558.71" font-size="9.7" textLength="9.92" lengthAdjust="spacingAndGlyphs" fill="#1e1e1e">10</text>
<text x="289.9" y="554.05" font-size="6.2" text-anchor="end" fill="#1e1e1e">1</text>
<text x="274.46" y="588.67" font-size="9.7" textLength="9.92" lengthAdjust="spacingAndGlyphs" fill="#1e1e1e">10</text>
<text x="289.9" y="584.01" font-size="6.2" text-anchor="end" fill="#1e1e1e">-1</text>
<text x="274.46" y="618.63" font-size="9.7" textLength="9.92" lengthAdjust="spacingAndGlyphs" fill="#1e1e1e">10</text>
<text x="289.9" y="613.97" font-size="6.2" text-anchor="end" fill="#1e1e1e">-3</text>
<text x="274.46" y="648.59" font-size="9.7" textLength="9.92" lengthAdjust="spacingAndGlyphs" fill="#1e1e1e">10</text>
<text x="289.9" y="643.93" font-size="6.2" text-anchor="end" fill="#1e1e1e">-5</text>
<text x="345.54" y="673.3" font-size="9.7" textLength="9.92" lengthAdjust="spacingAndGlyphs" fill="#1e1e1e">50</text>
<text x="401.06" y="673.3" font-size="9.7" textLength="14.89" lengthAdjust="spacingAndGlyphs" fill="#1e1e1e">100</text>
<text x="459.06" y="673.3" font-size="9.7" textLength="14.89" lengthAdjust="spacingAndGlyphs" fill="#1e1e1e">150</text>
<text x="331.8" y="682.4" font-size="9.9" font-weight="bold" textLength="118.1" lengthAdjust="spacingAndGlyphs" fill="#1c1c1c" style="stroke:#1c1c1c;stroke-width:0.2px">Solar zenith angle [degree]</text>
<g transform="translate(272.5 632.4) rotate(-90)" font-weight="bold" fill="#1c1c1c" style="stroke:#1c1c1c">
<text x="0" y="0" font-size="9.9" textLength="106.53" lengthAdjust="spacingAndGlyphs">Dust number density [m</text>
<text x="106.63" y="-4.95" font-size="5.54" textLength="4.97" lengthAdjust="spacingAndGlyphs">-3</text>
<text x="111.7" y="0" font-size="9.9" textLength="3.1" lengthAdjust="spacingAndGlyphs">]</text>
</g>
<g>
<path d="M292.9 490.75 C293.85 490.85 296.39 491.27 300 491.5 C303.61 491.73 314.67 492.17 320 492.5 C325.33 492.83 335.33 493.57 340 494 C344.67 494.43 351.13 495.27 355 495.75 C358.87 496.23 366.33 497.18 369 497.6 C371.67 498.02 373.33 498.73 375 498.9 C376.67 499.07 379.63 498.74 381.5 498.9 C383.37 499.06 387.33 499.78 389 500.1 C390.67 500.42 392.87 500.81 394 501.3 C395.13 501.79 396.77 503.47 397.5 503.8 C398.23 504.13 399.03 504.56 399.5 503.8 C399.97 503.04 400.53 499.42 401 498.1 C401.47 496.78 402.47 494.39 403 493.9 C403.53 493.41 404.47 493.91 405 494.4 C405.53 494.89 406.2 497 407 497.6 C407.8 498.2 409.8 498.59 411 498.9 C412.2 499.21 414.67 499.67 416 499.9 C417.33 500.13 419.93 500.43 421 500.6 C422.07 500.77 423.17 501.02 424 501.2 C424.83 501.38 426.35 502.07 427.2 501.97 C428.05 501.88 429.55 500.62 430.4 500.52 C431.25 500.42 432.75 501.08 433.6 501.21 C434.45 501.34 435.95 501.5 436.8 501.47 C437.65 501.45 439.15 501.07 440 501.03 C440.85 501 442.35 501.14 443.2 501.21 C444.05 501.28 445.55 501.62 446.4 501.54 C447.25 501.46 448.75 500.66 449.6 500.62 C450.45 500.58 451.95 501.07 452.8 501.24 C453.65 501.42 455.15 502.05 456 501.95 C456.85 501.85 458.35 500.6 459.2 500.5 C460.05 500.41 461.55 501.11 462.4 501.24 C463.25 501.36 464.75 501.49 465.6 501.46 C466.45 501.43 467.95 501.06 468.8 501.03 C469.65 501 471.15 501.15 472 501.22 C472.85 501.29 474.35 501.62 475.2 501.54 C476.05 501.45 477.63 500.57 478.4 500.6 C479.17 500.64 480.32 501.97 481 501.8 C481.68 501.63 482.83 499.37 483.5 499.3 C484.17 499.23 485.13 501.06 486 501.3 C486.87 501.54 489.47 501.13 490 501.1" stroke="#303030" stroke-width="1.3" fill="none" stroke-linejoin="round"/>
<path d="M292.9 530 C293.85 529.87 297.72 529.13 300 529 C302.28 528.87 306.67 528.87 310 529 C313.33 529.13 321 529.67 325 530 C329 530.33 336 531.13 340 531.5 C344 531.87 351.13 532.35 355 532.75 C358.87 533.15 366.07 533.92 369 534.5 C371.93 535.08 374.67 536.65 377 537.1 C379.33 537.55 384.23 537.63 386.5 537.9 C388.77 538.17 392.47 538.77 394 539.1 C395.53 539.43 397.13 540.56 398 540.4 C398.87 540.24 399.97 538.9 400.5 537.9 C401.03 536.9 401.6 533.73 402 532.9 C402.4 532.07 402.9 531.37 403.5 531.7 C404.1 532.03 405.5 534.68 406.5 535.4 C407.5 536.12 409.33 536.77 411 537.1 C412.67 537.43 416.87 537.63 419 537.9 C421.13 538.17 424.6 539.01 427 539.1 C429.4 539.19 434.47 538.6 437 538.6 C439.53 538.6 443.47 538.97 446 539.1 C448.53 539.23 454.13 539.43 456 539.6 C457.87 539.77 459.27 540.07 460 540.4 C460.73 540.73 461.03 542.34 461.5 542.1 C461.97 541.86 462.57 539.16 463.5 538.6 C464.43 538.04 466.97 537.83 468.5 537.9 C470.03 537.97 473.33 538.94 475 539.1 C476.67 539.26 479.4 539.37 481 539.1 C482.6 538.83 486.2 537.37 487 537.1" stroke="#303030" stroke-width="1.3" fill="none" stroke-linejoin="round" stroke-dasharray="4.8 4.5"/>
<path d="M292.9 567.5 C295.18 567.6 305.05 567.98 310 568.25 C314.95 568.52 324.67 569.1 330 569.5 C335.33 569.9 344.8 570.74 350 571.25 C355.2 571.76 365.13 572.79 369 573.3 C372.87 573.81 376.33 574.69 379 575.1 C381.67 575.51 386.87 576.07 389 576.4 C391.13 576.73 393.53 577.11 395 577.6 C396.47 578.09 398.93 579.54 400 580.1 C401.07 580.66 402.2 581.64 403 581.8 C403.8 581.96 405.33 582.02 406 581.3 C406.67 580.58 407.47 578.05 408 576.4 C408.53 574.75 409.47 570.06 410 568.9 C410.53 567.74 411.47 567.53 412 567.7 C412.53 567.87 413.2 569.44 414 570.2 C414.8 570.96 416.53 572.84 418 573.4 C419.47 573.96 422.47 574.17 425 574.4 C427.53 574.63 433.67 575.01 437 575.1 C440.33 575.19 447.13 574.99 450 575.1 C452.87 575.21 457.03 575.57 458.5 575.9 C459.97 576.23 460.33 577.71 461 577.6 C461.67 577.49 462.03 575.43 463.5 575.1 C464.97 574.77 470 574.99 472 575.1 C474 575.21 476.83 576.23 478.5 575.9 C480.17 575.57 483.23 572.8 484.5 572.6 C485.77 572.4 487.13 574.08 488 574.4 C488.87 574.72 490.6 574.92 491 575" stroke="#303030" stroke-width="1.1" fill="none" stroke-linejoin="round" stroke-dasharray="5.6 1.4 1 1.4"/>
<path d="M292.9 605.75 C293.18 605.58 294.05 604.67 295 604.5 C295.95 604.33 298.67 604.5 300 604.5 C301.33 604.5 303.93 604.33 305 604.5 C306.07 604.67 307.2 605.68 308 605.75 C308.8 605.82 310.07 605 311 605 C311.93 605 313.13 605.62 315 605.75 C316.87 605.88 322.33 605.93 325 606 C327.67 606.07 333 606.12 335 606.25 C337 606.38 338.67 606.8 340 607 C341.33 607.2 343.4 607.58 345 607.75 C346.6 607.92 350.67 608.12 352 608.25 C353.33 608.38 354.27 608.48 355 608.75 C355.73 609.02 356.57 609.98 357.5 610.25 C358.43 610.52 360.47 610.7 362 610.75 C363.53 610.8 367.4 610.62 369 610.6 C370.6 610.58 373 610.28 374 610.6 C375 610.92 375.5 612.51 376.5 613 C377.5 613.49 380.17 613.86 381.5 614.3 C382.83 614.74 385.17 615.81 386.5 616.3 C387.83 616.79 390.37 617.44 391.5 618 C392.63 618.56 394 619.9 395 620.5 C396 621.1 398 622.34 399 622.5 C400 622.66 401.57 621.87 402.5 621.7 C403.43 621.53 405.13 621.36 406 621.2 C406.87 621.04 408.27 620.26 409 620.5 C409.73 620.74 410.83 622.44 411.5 623 C412.17 623.56 413.13 624.54 414 624.7 C414.87 624.86 417.07 624.09 418 624.2 C418.93 624.31 420.07 624.9 421 625.5 C421.93 626.1 423.93 627.87 425 628.7 C426.07 629.53 428 631.14 429 631.7 C430 632.26 431.57 632.9 432.5 632.9 C433.43 632.9 434.87 632.13 436 631.7 C437.13 631.27 439.67 630.19 441 629.7 C442.33 629.21 444.67 628.33 446 628 C447.33 627.67 449.67 627.2 451 627.2 C452.33 627.2 454.67 628.23 456 628 C457.33 627.77 459.67 626.07 461 625.5 C462.33 624.93 465 623.7 466 623.7 C467 623.7 467.83 624.77 468.5 625.5 C469.17 626.23 470.4 627.71 471 629.2 C471.6 630.69 472.53 634.38 473 636.7 C473.47 639.02 474.1 643.79 474.5 646.6 C474.9 649.41 475.73 655.81 476 657.8 C476.27 659.79 476.43 661.01 476.5 661.5" stroke="#303030" stroke-width="1.1" fill="none" stroke-linejoin="round" stroke-dasharray="4.6 1.4 1 1.4 1 1.4"/>
</g>
<path d="M305.25 624.5H336.5" stroke="#303030" stroke-width="0.94" fill="none" stroke-linejoin="round" stroke-dasharray="6 1.5 1 1.5 1 1.5"/>
<text x="342.25" y="626.68" font-size="6.9" font-weight="bold" style="stroke-width:0.3px" textLength="32.2" lengthAdjust="spacingAndGlyphs" fill="#1e1e1e">(1-1.5)×10</text>
<text x="374.55" y="623.58" font-size="4" font-weight="bold" style="stroke-width:0.3px" textLength="3.1" lengthAdjust="spacingAndGlyphs" fill="#1e1e1e">-4</text>
<text x="380.55" y="626.68" font-size="6.9" font-weight="bold" style="stroke-width:0.3px" textLength="10" lengthAdjust="spacingAndGlyphs" fill="#1e1e1e">[m]</text>
<path d="M305.25 632.85H336.5" stroke="#303030" stroke-width="0.94" fill="none" stroke-linejoin="round" stroke-dasharray="6 1.8 1 1.8"/>
<text x="342.25" y="635.03" font-size="6.9" font-weight="bold" style="stroke-width:0.3px" textLength="32.2" lengthAdjust="spacingAndGlyphs" fill="#1e1e1e">(1-1.5)×10</text>
<text x="374.55" y="631.93" font-size="4" font-weight="bold" style="stroke-width:0.3px" textLength="3.1" lengthAdjust="spacingAndGlyphs" fill="#1e1e1e">-5</text>
<text x="380.55" y="635.03" font-size="6.9" font-weight="bold" style="stroke-width:0.3px" textLength="10" lengthAdjust="spacingAndGlyphs" fill="#1e1e1e">[m]</text>
<path d="M305.25 641.25H336.5" stroke="#303030" stroke-width="1.1" fill="none" stroke-linejoin="round" stroke-dasharray="6.3 3.1"/>
<text x="342.25" y="643.43" font-size="6.9" font-weight="bold" style="stroke-width:0.3px" textLength="32.2" lengthAdjust="spacingAndGlyphs" fill="#1e1e1e">(1-1.5)×10</text>
<text x="374.55" y="640.33" font-size="4" font-weight="bold" style="stroke-width:0.3px" textLength="3.1" lengthAdjust="spacingAndGlyphs" fill="#1e1e1e">-6</text>
<text x="380.55" y="643.43" font-size="6.9" font-weight="bold" style="stroke-width:0.3px" textLength="10" lengthAdjust="spacingAndGlyphs" fill="#1e1e1e">[m]</text>
<path d="M305.25 649.75H336.5" stroke="#303030" stroke-width="1.1" fill="none" stroke-linejoin="round"/>
<text x="342.25" y="651.93" font-size="6.9" font-weight="bold" style="stroke-width:0.3px" textLength="32.2" lengthAdjust="spacingAndGlyphs" fill="#1e1e1e">(1-1.5)×10</text>
<text x="374.55" y="648.83" font-size="4" font-weight="bold" style="stroke-width:0.3px" textLength="3.1" lengthAdjust="spacingAndGlyphs" fill="#1e1e1e">-7</text>
<text x="380.55" y="651.93" font-size="6.9" font-weight="bold" style="stroke-width:0.3px" textLength="10" lengthAdjust="spacingAndGlyphs" fill="#1e1e1e">[m]</text>
<text x="383.2" y="703.5" font-size="13.5" textLength="13.2" lengthAdjust="spacingAndGlyphs" style="font-family:'Liberation Serif',serif;stroke-width:0" fill="#3a3a3a">(f)</text>
</g>
<g id="panel-g">
<path d="M29.2 720.2 V900.25 H225.76" stroke="#303030" stroke-width="1.15" fill="none" stroke-linejoin="miter"/>
<path d="M29.2 900.24h4.5M29.2 870.3h4.5M29.2 840.36h4.5M29.2 810.42h4.5M29.2 780.48h4.5M29.2 750.54h4.5M29.2 720.6h4.5M83.8 900.25v-4.5M138.4 900.25v-4.5M193 900.25v-4.5" stroke="#303030" stroke-width="1.15" fill="none"/>
<path d="M29.2 891.23h2.3M29.2 885.95h2.3M29.2 882.21h2.3M29.2 879.31h2.3M29.2 876.94h2.3M29.2 874.94h2.3M29.2 873.2h2.3M29.2 871.67h2.3M29.2 861.29h2.3M29.2 856.01h2.3M29.2 852.27h2.3M29.2 849.37h2.3M29.2 847h2.3M29.2 845h2.3M29.2 843.26h2.3M29.2 841.73h2.3M29.2 831.35h2.3M29.2 826.07h2.3M29.2 822.33h2.3M29.2 819.43h2.3M29.2 817.06h2.3M29.2 815.06h2.3M29.2 813.32h2.3M29.2 811.79h2.3M29.2 801.41h2.3M29.2 796.13h2.3M29.2 792.39h2.3M29.2 789.49h2.3M29.2 787.12h2.3M29.2 785.12h2.3M29.2 783.38h2.3M29.2 781.85h2.3M29.2 771.47h2.3M29.2 766.19h2.3M29.2 762.45h2.3M29.2 759.55h2.3M29.2 757.18h2.3M29.2 755.18h2.3M29.2 753.44h2.3M29.2 751.91h2.3M29.2 741.53h2.3M29.2 736.25h2.3M29.2 732.51h2.3M29.2 729.61h2.3M29.2 727.24h2.3M29.2 725.24h2.3M29.2 723.5h2.3M29.2 721.97h2.3M40.12 900.25v-2.3M51.04 900.25v-2.3M61.96 900.25v-2.3M72.88 900.25v-2.3M94.72 900.25v-2.3M105.64 900.25v-2.3M116.56 900.25v-2.3M127.48 900.25v-2.3M149.32 900.25v-2.3M160.24 900.25v-2.3M171.16 900.25v-2.3M182.08 900.25v-2.3M203.92 900.25v-2.3M214.84 900.25v-2.3M225.76 900.25v-2.3" stroke="#555" stroke-width="0.7" fill="none"/>
<text x="13.53" y="724.48" font-size="9.7" textLength="9.92" lengthAdjust="spacingAndGlyphs" fill="#1e1e1e">10</text>
<text x="26.9" y="719.82" font-size="6.2" text-anchor="end" fill="#1e1e1e">5</text>
<text x="13.53" y="754.42" font-size="9.7" textLength="9.92" lengthAdjust="spacingAndGlyphs" fill="#1e1e1e">10</text>
<text x="26.9" y="749.76" font-size="6.2" text-anchor="end" fill="#1e1e1e">4</text>
<text x="13.53" y="784.36" font-size="9.7" textLength="9.92" lengthAdjust="spacingAndGlyphs" fill="#1e1e1e">10</text>
<text x="26.9" y="779.7" font-size="6.2" text-anchor="end" fill="#1e1e1e">3</text>
<text x="13.53" y="814.3" font-size="9.7" textLength="9.92" lengthAdjust="spacingAndGlyphs" fill="#1e1e1e">10</text>
<text x="26.9" y="809.64" font-size="6.2" text-anchor="end" fill="#1e1e1e">2</text>
<text x="13.53" y="844.24" font-size="9.7" textLength="9.92" lengthAdjust="spacingAndGlyphs" fill="#1e1e1e">10</text>
<text x="26.9" y="839.58" font-size="6.2" text-anchor="end" fill="#1e1e1e">1</text>
<text x="13.53" y="874.18" font-size="9.7" textLength="9.92" lengthAdjust="spacingAndGlyphs" fill="#1e1e1e">10</text>
<text x="26.9" y="869.52" font-size="6.2" text-anchor="end" fill="#1e1e1e">0</text>
<text x="11.46" y="904.12" font-size="9.7" textLength="9.92" lengthAdjust="spacingAndGlyphs" fill="#1e1e1e">10</text>
<text x="26.9" y="899.46" font-size="6.2" text-anchor="end" fill="#1e1e1e">-1</text>
<text x="26.72" y="909.35" font-size="9.7" textLength="4.96" lengthAdjust="spacingAndGlyphs" fill="#1e1e1e">0</text>
<text x="78.84" y="909.35" font-size="9.7" textLength="9.92" lengthAdjust="spacingAndGlyphs" fill="#1e1e1e">50</text>
<text x="130.96" y="909.35" font-size="9.7" textLength="14.89" lengthAdjust="spacingAndGlyphs" fill="#1e1e1e">100</text>
<text x="185.56" y="909.35" font-size="9.7" textLength="14.89" lengthAdjust="spacingAndGlyphs" fill="#1e1e1e">150</text>
<text x="67.4" y="918.3" font-size="9.9" font-weight="bold" textLength="119" lengthAdjust="spacingAndGlyphs" fill="#1c1c1c" style="stroke:#1c1c1c;stroke-width:0.2px">Solar zenith angle [degree]</text>
<g transform="translate(9.9 867.7) rotate(-90)" font-weight="bold" fill="#1c1c1c" style="stroke:#1c1c1c">
<text x="0" y="0" font-size="9.9" textLength="105.42" lengthAdjust="spacingAndGlyphs">Dust number density [m</text>
<text x="105.52" y="-4.95" font-size="5.54" textLength="4.91" lengthAdjust="spacingAndGlyphs">-3</text>
<text x="110.53" y="0" font-size="9.9" textLength="3.07" lengthAdjust="spacingAndGlyphs">]</text>
</g>
<g>
<path d="M28.9 724.25 C30.75 724.33 36.82 724.67 40 724.75 C43.18 724.83 45.5 724.46 48 724.75 C50.5 725.04 52.17 725.88 55 726.5 C57.83 727.12 61.67 727.83 65 728.5 C68.33 729.17 71.67 729.58 75 730.5 C78.33 731.42 81.67 732.67 85 734 C88.33 735.33 92.67 737.25 95 738.5 C97.33 739.75 97.75 740.33 99 741.5 C100.25 742.67 101.67 744.57 102.5 745.5 C103.33 746.43 103.5 746.73 104 747.1 C104.5 747.48 105 747.75 105.5 747.75 C106 747.75 106.5 747.46 107 747.1 C107.5 746.74 107.67 746.41 108.5 745.6 C109.33 744.79 110.75 743.1 112 742.25 C113.25 741.4 114.67 740.58 116 740.5 C117.33 740.42 118.83 741.33 120 741.75 C121.17 742.17 121.67 742.58 123 743 C124.33 743.42 126.33 743.83 128 744.25 C129.67 744.67 131 745.38 133 745.5 C135 745.62 136.33 745.17 140 745 C143.67 744.83 148.33 744.62 155 744.5 C161.67 744.38 168.17 744.29 180 744.25 C191.83 744.21 218.33 744.25 226 744.25" stroke="#303030" stroke-width="1.3" fill="none" stroke-linejoin="round"/>
<path d="M28.9 798.5 L45 799 L55 801 L65 803 L75 805.25 L85 807.25 L88 809.75 L90 813.5 L92 821 L93.5 831 L94.5 843.5 L95.5 856 L96.5 868.5 L97 881 L98 881.5 L105 880.5 L115 878.5 L123 878 L130 878.5 L226 878.5" stroke="#303030" stroke-width="1.3" fill="none" stroke-linejoin="round" stroke-dasharray="5 3.1"/>
</g>
<path d="M133.5 846.4H175.5" stroke="#303030" stroke-width="1.17" fill="none" stroke-linejoin="round" stroke-dasharray="4 3.5"/>
<text x="182.8" y="849.94" font-size="9.81" font-weight="bold" textLength="10.21" lengthAdjust="spacingAndGlyphs" fill="#1e1e1e">10</text>
<text x="193.01" y="845.14" font-size="5.22" font-weight="bold" textLength="4.87" lengthAdjust="spacingAndGlyphs" fill="#1e1e1e">-6</text>
<text x="198.18" y="849.94" font-size="9.81" font-weight="bold" textLength="14.97" lengthAdjust="spacingAndGlyphs" fill="#1e1e1e">[m]</text>
<path d="M133.5 857.5H175.5" stroke="#303030" stroke-width="1.17" fill="none" stroke-linejoin="round"/>
<text x="182.8" y="861.04" font-size="9.81" font-weight="bold" textLength="10.21" lengthAdjust="spacingAndGlyphs" fill="#1e1e1e">10</text>
<text x="193.01" y="856.24" font-size="5.22" font-weight="bold" textLength="4.87" lengthAdjust="spacingAndGlyphs" fill="#1e1e1e">-7</text>
<text x="198.18" y="861.04" font-size="9.81" font-weight="bold" textLength="14.97" lengthAdjust="spacingAndGlyphs" fill="#1e1e1e">[m]</text>
<text x="118.95" y="939.3" font-size="13.5" textLength="14.3" lengthAdjust="spacingAndGlyphs" style="font-family:'Liberation Serif',serif;stroke-width:0" fill="#3a3a3a">(g)</text>
</g>
<g id="panel-h">
<path d="M292.5 720.1 V900 H491" stroke="#303030" stroke-width="1.15" fill="none" stroke-linejoin="miter"/>
<path d="M292.5 900h4.5M292.5 872.3h4.5M292.5 844.6h4.5M292.5 816.9h4.5M292.5 789.2h4.5M292.5 761.5h4.5M292.5 733.8h4.5M350.5 900v-4.5M408.5 900v-4.5M466.5 900v-4.5" stroke="#303030" stroke-width="1.15" fill="none"/>
<path d="M292.5 891.66h2.3M292.5 886.78h2.3M292.5 883.32h2.3M292.5 880.64h2.3M292.5 878.45h2.3M292.5 876.59h2.3M292.5 874.98h2.3M292.5 873.57h2.3M292.5 863.96h2.3M292.5 859.08h2.3M292.5 855.62h2.3M292.5 852.94h2.3M292.5 850.75h2.3M292.5 848.89h2.3M292.5 847.28h2.3M292.5 845.87h2.3M292.5 836.26h2.3M292.5 831.38h2.3M292.5 827.92h2.3M292.5 825.24h2.3M292.5 823.05h2.3M292.5 821.19h2.3M292.5 819.58h2.3M292.5 818.17h2.3M292.5 808.56h2.3M292.5 803.68h2.3M292.5 800.22h2.3M292.5 797.54h2.3M292.5 795.35h2.3M292.5 793.49h2.3M292.5 791.88h2.3M292.5 790.47h2.3M292.5 780.86h2.3M292.5 775.98h2.3M292.5 772.52h2.3M292.5 769.84h2.3M292.5 767.65h2.3M292.5 765.79h2.3M292.5 764.18h2.3M292.5 762.77h2.3M292.5 753.16h2.3M292.5 748.28h2.3M292.5 744.82h2.3M292.5 742.14h2.3M292.5 739.95h2.3M292.5 738.09h2.3M292.5 736.48h2.3M292.5 735.07h2.3M292.5 725.46h2.3M292.5 720.58h2.3M304.1 900v-2.3M315.7 900v-2.3M327.3 900v-2.3M338.9 900v-2.3M362.1 900v-2.3M373.7 900v-2.3M385.3 900v-2.3M396.9 900v-2.3M420.1 900v-2.3M431.7 900v-2.3M443.3 900v-2.3M454.9 900v-2.3M478.1 900v-2.3M489.7 900v-2.3" stroke="#555" stroke-width="0.7" fill="none"/>
<text x="276.53" y="737.34" font-size="9.7" textLength="9.92" lengthAdjust="spacingAndGlyphs" fill="#1e1e1e">10</text>
<text x="289.9" y="732.68" font-size="6.2" text-anchor="end" fill="#1e1e1e">4</text>
<text x="276.53" y="765.04" font-size="9.7" textLength="9.92" lengthAdjust="spacingAndGlyphs" fill="#1e1e1e">10</text>
<text x="289.9" y="760.38" font-size="6.2" text-anchor="end" fill="#1e1e1e">3</text>
<text x="276.53" y="792.74" font-size="9.7" textLength="9.92" lengthAdjust="spacingAndGlyphs" fill="#1e1e1e">10</text>
<text x="289.9" y="788.08" font-size="6.2" text-anchor="end" fill="#1e1e1e">2</text>
<text x="276.53" y="820.44" font-size="9.7" textLength="9.92" lengthAdjust="spacingAndGlyphs" fill="#1e1e1e">10</text>
<text x="289.9" y="815.78" font-size="6.2" text-anchor="end" fill="#1e1e1e">1</text>
<text x="276.53" y="848.14" font-size="9.7" textLength="9.92" lengthAdjust="spacingAndGlyphs" fill="#1e1e1e">10</text>
<text x="289.9" y="843.48" font-size="6.2" text-anchor="end" fill="#1e1e1e">0</text>
<text x="274.46" y="875.84" font-size="9.7" textLength="9.92" lengthAdjust="spacingAndGlyphs" fill="#1e1e1e">10</text>
<text x="289.9" y="871.18" font-size="6.2" text-anchor="end" fill="#1e1e1e">-1</text>
<text x="274.46" y="903.54" font-size="9.7" textLength="9.92" lengthAdjust="spacingAndGlyphs" fill="#1e1e1e">10</text>
<text x="289.9" y="898.88" font-size="6.2" text-anchor="end" fill="#1e1e1e">-2</text>
<text x="290.02" y="909.1" font-size="9.7" textLength="4.96" lengthAdjust="spacingAndGlyphs" fill="#1e1e1e">0</text>
<text x="345.54" y="909.1" font-size="9.7" textLength="9.92" lengthAdjust="spacingAndGlyphs" fill="#1e1e1e">50</text>
<text x="401.06" y="909.1" font-size="9.7" textLength="14.89" lengthAdjust="spacingAndGlyphs" fill="#1e1e1e">100</text>
<text x="459.06" y="909.1" font-size="9.7" textLength="14.89" lengthAdjust="spacingAndGlyphs" fill="#1e1e1e">150</text>
<text x="331.8" y="918.3" font-size="9.9" font-weight="bold" textLength="118.1" lengthAdjust="spacingAndGlyphs" fill="#1c1c1c" style="stroke:#1c1c1c;stroke-width:0.2px">Solar zenith angle [degree]</text>
<g transform="translate(272.5 867.7) rotate(-90)" font-weight="bold" fill="#1c1c1c" style="stroke:#1c1c1c">
<text x="0" y="0" font-size="9.9" textLength="105.98" lengthAdjust="spacingAndGlyphs">Dust number density [m</text>
<text x="106.08" y="-4.95" font-size="5.54" textLength="4.94" lengthAdjust="spacingAndGlyphs">-3</text>
<text x="111.12" y="0" font-size="9.9" textLength="3.08" lengthAdjust="spacingAndGlyphs">]</text>
</g>
<g>
<path d="M292.9 725.6 C293.21 725.41 294.49 724.25 295.2 724.2 C295.91 724.15 297.39 725.17 298.2 725.2 C299.01 725.23 299.73 724.37 301.3 724.4 C302.87 724.43 307.51 725.17 310 725.4 C312.49 725.63 317.33 725.85 320 726.1 C322.67 726.35 327.6 726.91 330 727.3 C332.4 727.69 336 728.51 338 729 C340 729.49 343.13 730.57 345 731 C346.87 731.43 350 731.82 352 732.25 C354 732.68 357.73 733.6 360 734.25 C362.27 734.9 367.4 736.56 369 737.1 C370.6 737.64 371.2 737.97 372 738.3 C372.8 738.63 374.2 738.93 375 739.6 C375.8 740.27 377.2 742.41 378 743.3 C378.8 744.19 380.2 745.77 381 746.3 C381.8 746.83 383.2 747.3 384 747.3 C384.8 747.3 386.33 746.77 387 746.3 C387.67 745.83 388.47 745.36 389 743.8 C389.53 742.24 390.47 736.83 391 734.6 C391.53 732.37 392.47 727.59 393 727.1 C393.53 726.61 394.4 729.74 395 730.9 C395.6 732.06 396.83 734.64 397.5 735.8 C398.17 736.96 399.13 739.2 400 739.6 C400.87 740 402.8 738.71 404 738.8 C405.2 738.89 407.93 740.1 409 740.3 C410.07 740.5 411.17 740.19 412 740.3 C412.83 740.41 414.35 741.26 415.2 741.16 C416.05 741.06 417.55 739.65 418.4 739.54 C419.25 739.43 420.75 740.17 421.6 740.31 C422.45 740.45 423.95 740.63 424.8 740.6 C425.65 740.58 427.15 740.16 428 740.12 C428.85 740.08 430.35 740.23 431.2 740.31 C432.05 740.38 433.55 740.77 434.4 740.68 C435.25 740.59 436.75 739.7 437.6 739.66 C438.45 739.61 439.95 740.15 440.8 740.35 C441.65 740.54 443.15 741.24 444 741.13 C444.85 741.02 446.35 739.63 447.2 739.53 C448.05 739.42 449.55 740.2 450.4 740.34 C451.25 740.48 452.75 740.62 453.6 740.59 C454.45 740.56 455.95 740.15 456.8 740.11 C457.65 740.08 459.15 740.25 460 740.32 C460.85 740.4 462.35 740.76 463.2 740.67 C464.05 740.58 465.09 739.44 466.4 739.64 C467.71 739.83 471.59 742.01 473 742.1 C474.41 742.19 476.07 740.97 477 740.3 C477.93 739.63 479.33 737.03 480 737.1 C480.67 737.17 481.47 739.91 482 740.8 C482.53 741.69 483.47 743.63 484 743.8 C484.53 743.97 485.47 742.77 486 742.1 C486.53 741.43 487.47 739.31 488 738.8 C488.53 738.29 489.73 738.37 490 738.3" stroke="#303030" stroke-width="1.3" fill="none" stroke-linejoin="round"/>
<path d="M292.9 793.5 C294.51 793.67 301.39 794.42 305 794.75 C308.61 795.08 316.4 795.6 320 796 C323.6 796.4 329.33 797.18 332 797.75 C334.67 798.32 337.6 799.58 340 800.25 C342.4 800.92 347.33 802.15 350 802.75 C352.67 803.35 357.47 804.22 360 804.75 C362.53 805.28 367.27 806.04 369 806.7 C370.73 807.36 371.33 808.79 373 809.7 C374.67 810.61 379.5 812.73 381.5 813.5 C383.5 814.27 386.87 814.51 388 815.5 C389.13 816.49 389.33 820.67 390 820.9 C390.67 821.13 392 817.36 393 817.2 C394 817.04 396.23 818.87 397.5 819.7 C398.77 820.53 400.97 822.41 402.5 823.4 C404.03 824.39 407.6 826.43 409 827.1 C410.4 827.77 412.33 828.83 413 828.4 C413.67 827.97 413.6 823.9 414 823.9 C414.4 823.9 415.2 827.15 416 828.4 C416.8 829.65 418.8 832.14 420 833.3 C421.2 834.46 423.8 836.26 425 837.1 C426.2 837.94 427.8 839.51 429 839.6 C430.2 839.69 432.53 838.37 434 837.8 C435.47 837.23 438.67 835.39 440 835.3 C441.33 835.21 442.87 836.63 444 837.1 C445.13 837.57 447.17 838.91 448.5 838.8 C449.83 838.69 452.47 836.77 454 836.3 C455.53 835.83 458.67 835.3 460 835.3 C461.33 835.3 462.93 835.57 464 836.3 C465.07 837.03 467.07 839.53 468 840.8 C468.93 842.07 470.2 844.31 471 845.8 C471.8 847.29 473.33 849.68 474 852 C474.67 854.32 475.6 859.72 476 863.2 C476.4 866.68 476.73 874.29 477 878.1 C477.27 881.91 477.87 889.97 478 891.8" stroke="#303030" stroke-width="1.3" fill="none" stroke-linejoin="round" stroke-dasharray="4.8 4.5"/>
</g>
<path d="M308 851H339" stroke="#303030" stroke-width="1.1" fill="none" stroke-linejoin="round" stroke-dasharray="4.5 3.2"/>
<text x="344.75" y="853.18" font-size="6.9" font-weight="bold" style="stroke-width:0.3px" textLength="32.2" lengthAdjust="spacingAndGlyphs" fill="#1e1e1e">(1-1.5)×10</text>
<text x="377.05" y="850.08" font-size="4" font-weight="bold" style="stroke-width:0.3px" textLength="3.1" lengthAdjust="spacingAndGlyphs" fill="#1e1e1e">-6</text>
<text x="383.05" y="853.18" font-size="6.9" font-weight="bold" style="stroke-width:0.3px" textLength="10" lengthAdjust="spacingAndGlyphs" fill="#1e1e1e">[m]</text>
<path d="M308 859.7H339" stroke="#303030" stroke-width="1.1" fill="none" stroke-linejoin="round"/>
<text x="344.75" y="861.88" font-size="6.9" font-weight="bold" style="stroke-width:0.3px" textLength="32.2" lengthAdjust="spacingAndGlyphs" fill="#1e1e1e">(1-1.5)×10</text>
<text x="377.05" y="858.78" font-size="4" font-weight="bold" style="stroke-width:0.3px" textLength="3.1" lengthAdjust="spacingAndGlyphs" fill="#1e1e1e">-7</text>
<text x="383.05" y="861.88" font-size="6.9" font-weight="bold" style="stroke-width:0.3px" textLength="10" lengthAdjust="spacingAndGlyphs" fill="#1e1e1e">[m]</text>
<text x="381.95" y="939.3" font-size="13.5" textLength="15.3" lengthAdjust="spacingAndGlyphs" style="font-family:'Liberation Serif',serif;stroke-width:0" fill="#3a3a3a">(h)</text>
</g>
</svg>
</body>
</html>
